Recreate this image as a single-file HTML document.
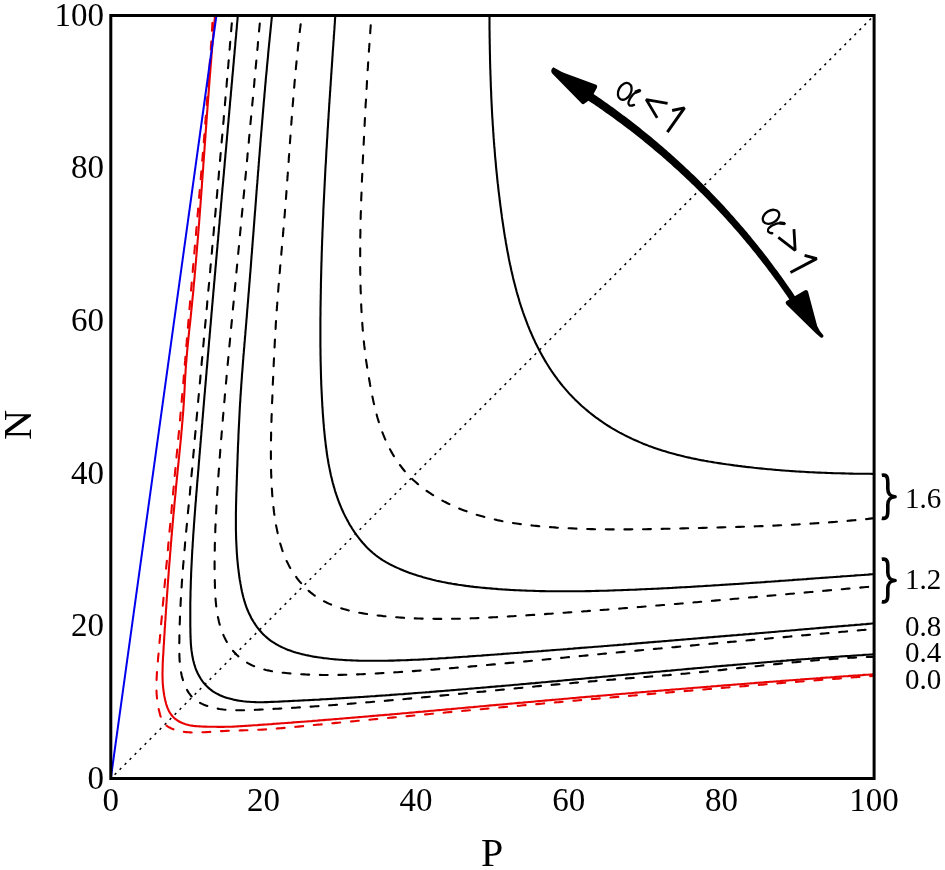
<!DOCTYPE html>
<html><head><meta charset="utf-8"><style>html,body{margin:0;padding:0;background:#fff;}svg{display:block;will-change:transform;}</style></head>
<body>
<svg width="945" height="870" viewBox="0 0 945 870">
<rect width="945" height="870" fill="#fff"/>
<defs><clipPath id="c"><rect x="110.8" y="15.5" width="763.3000000000001" height="763.0"/></clipPath></defs>
<g clip-path="url(#c)" fill="none" stroke-linejoin="round">
<path d="M110.8,778.5 L874.1,15.5" stroke="#000" stroke-width="1.5" stroke-dasharray="2.3 4.768" stroke-dashoffset="1.64"/>
<path d="M489.3,15.5 L489.5,17.5 L489.5,19.5 L489.5,21.5 L489.5,23.5 L489.5,25.5 L489.5,27.5 L489.5,29.5 L489.6,31.5 L489.6,33.5 L489.6,35.5 L489.6,37.5 L489.7,39.5 L489.7,41.5 L489.7,43.5 L489.8,45.5 L489.8,47.5 L489.8,49.5 L489.9,51.5 L489.9,53.5 L490.0,55.5 L490.0,57.5 L490.0,59.5 L490.1,61.5 L490.1,63.5 L490.2,65.5 L490.2,67.5 L490.3,69.5 L490.4,71.5 L490.4,73.5 L490.5,75.5 L490.6,77.5 L490.6,79.5 L490.7,81.5 L490.8,83.5 L490.8,85.5 L490.9,87.5 L491.0,89.5 L491.1,91.5 L491.2,93.5 L491.2,95.5 L491.3,97.5 L491.4,99.5 L491.5,101.5 L491.6,103.5 L491.7,105.5 L491.8,107.5 L491.9,109.5 L492.0,111.5 L492.1,113.5 L492.2,115.5 L492.3,117.5 L492.5,119.5 L492.6,121.5 L492.7,123.5 L492.8,125.5 L493.0,127.4 L493.1,129.4 L493.2,131.4 L493.4,133.4 L493.5,135.4 L493.6,137.4 L493.8,139.4 L493.9,141.4 L494.1,143.4 L494.2,145.4 L494.4,147.4 L494.6,149.4 L494.7,151.3 L494.9,153.3 L495.0,155.3 L495.2,157.3 L495.4,159.3 L495.6,161.3 L495.8,163.3 L495.9,165.3 L496.1,167.3 L496.3,169.3 L496.5,171.2 L496.7,173.2 L496.9,175.2 L497.1,177.2 L497.3,179.2 L497.5,181.2 L497.7,183.2 L498.0,185.2 L498.2,187.1 L498.4,189.1 L498.6,191.1 L498.9,193.1 L499.1,195.1 L499.4,197.1 L499.6,199.1 L499.8,201.0 L500.1,203.0 L500.3,205.0 L500.6,207.0 L500.9,209.0 L501.1,211.0 L501.4,213.0 L501.7,214.9 L501.9,216.9 L502.2,218.9 L502.5,220.9 L502.8,222.9 L503.1,224.9 L503.4,226.8 L503.7,228.8 L504.0,230.8 L504.3,232.8 L504.6,234.8 L504.9,236.7 L505.3,238.7 L505.6,240.7 L505.9,242.7 L506.3,244.7 L506.6,246.6 L507.0,248.6 L507.3,250.6 L507.7,252.5 L508.1,254.5 L508.5,256.5 L508.8,258.5 L509.2,260.4 L509.6,262.4 L510.0,264.3 L510.5,266.3 L510.9,268.3 L511.3,270.2 L511.8,272.2 L512.2,274.1 L512.7,276.1 L513.1,278.0 L513.6,280.0 L514.1,281.9 L514.6,283.8 L515.1,285.8 L515.6,287.7 L516.1,289.6 L516.6,291.6 L517.2,293.5 L517.7,295.4 L518.3,297.3 L518.9,299.2 L519.4,301.2 L520.0,303.1 L520.6,305.0 L521.2,306.9 L521.9,308.8 L522.5,310.7 L523.1,312.5 L523.8,314.4 L524.5,316.3 L525.2,318.2 L525.9,320.1 L526.6,321.9 L527.3,323.8 L528.0,325.6 L528.8,327.5 L529.5,329.4 L530.3,331.2 L531.1,333.0 L531.9,334.9 L532.7,336.7 L533.5,338.5 L534.4,340.3 L535.2,342.2 L536.1,344.0 L537.0,345.8 L537.9,347.6 L538.8,349.3 L539.7,351.1 L540.7,352.9 L541.6,354.6 L542.6,356.4 L543.6,358.1 L544.6,359.9 L545.6,361.6 L546.6,363.3 L547.7,365.0 L548.8,366.7 L549.8,368.4 L550.9,370.0 L552.0,371.7 L553.2,373.4 L554.3,375.0 L555.5,376.6 L556.7,378.2 L557.8,379.8 L559.1,381.4 L560.3,383.0 L561.5,384.5 L562.8,386.1 L564.1,387.6 L565.4,389.1 L566.7,390.6 L568.0,392.1 L569.3,393.6 L570.7,395.1 L572.1,396.5 L573.5,397.9 L574.9,399.4 L576.3,400.8 L577.7,402.1 L579.2,403.5 L580.7,404.9 L582.1,406.2 L583.6,407.5 L585.1,408.8 L586.7,410.1 L588.2,411.4 L589.8,412.7 L591.3,413.9 L592.9,415.1 L594.5,416.4 L596.1,417.6 L597.7,418.7 L599.3,419.9 L601.0,421.0 L602.6,422.2 L604.3,423.3 L605.9,424.4 L607.6,425.5 L609.3,426.5 L611.0,427.6 L612.7,428.6 L614.5,429.6 L616.2,430.6 L617.9,431.6 L619.7,432.6 L621.5,433.5 L623.2,434.4 L625.0,435.4 L626.8,436.3 L628.6,437.1 L630.4,438.0 L632.2,438.9 L634.0,439.7 L635.9,440.5 L637.7,441.3 L639.5,442.1 L641.4,442.9 L643.2,443.7 L645.1,444.4 L646.9,445.1 L648.8,445.9 L650.7,446.6 L652.6,447.2 L654.5,447.9 L656.3,448.6 L658.2,449.2 L660.1,449.8 L662.0,450.4 L663.9,451.0 L665.9,451.6 L667.8,452.2 L669.7,452.8 L671.6,453.3 L673.5,453.8 L675.5,454.3 L677.4,454.9 L679.3,455.3 L681.3,455.8 L683.2,456.3 L685.2,456.8 L687.1,457.2 L689.0,457.6 L691.0,458.1 L693.0,458.5 L694.9,458.9 L696.9,459.3 L698.8,459.7 L700.8,460.1 L702.7,460.4 L704.7,460.8 L706.7,461.1 L708.6,461.5 L710.6,461.8 L712.6,462.1 L714.6,462.5 L716.5,462.8 L718.5,463.1 L720.5,463.4 L722.5,463.7 L724.4,464.0 L726.4,464.3 L728.4,464.5 L730.4,464.8 L732.4,465.1 L734.3,465.4 L736.3,465.6 L738.3,465.9 L740.3,466.1 L742.3,466.4 L744.3,466.6 L746.2,466.9 L748.2,467.1 L750.2,467.3 L752.2,467.5 L754.2,467.8 L756.2,468.0 L758.2,468.2 L760.2,468.4 L762.1,468.6 L764.1,468.8 L766.1,469.0 L768.1,469.2 L770.1,469.3 L772.1,469.5 L774.1,469.7 L776.1,469.9 L778.1,470.0 L780.1,470.2 L782.1,470.4 L784.1,470.5 L786.1,470.7 L788.1,470.8 L790.1,471.0 L792.1,471.1 L794.1,471.2 L796.0,471.4 L798.0,471.5 L800.0,471.6 L802.0,471.7 L804.0,471.8 L806.0,472.0 L808.0,472.1 L810.0,472.2 L812.0,472.3 L814.0,472.4 L816.0,472.5 L818.0,472.6 L820.0,472.6 L822.0,472.7 L824.0,472.8 L826.0,472.9 L828.0,473.0 L830.0,473.0 L832.0,473.1 L834.0,473.2 L836.0,473.2 L838.0,473.3 L840.0,473.3 L842.0,473.4 L844.0,473.4 L846.0,473.5 L848.0,473.5 L850.0,473.6 L852.0,473.6 L854.0,473.7 L856.0,473.7 L858.0,473.7 L860.0,473.7 L862.0,473.8 L864.0,473.8 L866.0,473.8 L868.0,473.8 L870.0,473.8 L872.0,473.9 L874.0,473.9" stroke="#000" stroke-width="2.1"/>
<path d="M335.4,15.5 L335.2,17.5 L335.0,19.5 L334.9,21.5 L334.8,23.5 L334.6,25.5 L334.5,27.4 L334.4,29.4 L334.2,31.4 L334.1,33.4 L333.9,35.4 L333.8,37.4 L333.7,39.4 L333.5,41.4 L333.4,43.3 L333.3,45.3 L333.1,47.3 L333.0,49.3 L332.8,51.3 L332.7,53.3 L332.6,55.3 L332.4,57.3 L332.3,59.3 L332.2,61.3 L332.0,63.3 L331.9,65.3 L331.8,67.3 L331.6,69.2 L331.5,71.2 L331.4,73.2 L331.2,75.2 L331.1,77.2 L331.0,79.2 L330.8,81.2 L330.7,83.2 L330.6,85.2 L330.4,87.2 L330.3,89.2 L330.2,91.2 L330.0,93.2 L329.9,95.2 L329.8,97.2 L329.6,99.2 L329.5,101.2 L329.4,103.2 L329.2,105.2 L329.1,107.2 L329.0,109.2 L328.9,111.2 L328.7,113.2 L328.6,115.2 L328.5,117.2 L328.4,119.2 L328.2,121.2 L328.1,123.2 L328.0,125.2 L327.9,127.2 L327.7,129.2 L327.6,131.2 L327.5,133.2 L327.4,135.3 L327.3,137.3 L327.1,139.3 L327.0,141.3 L326.9,143.3 L326.8,145.3 L326.7,147.3 L326.5,149.3 L326.4,151.3 L326.3,153.3 L326.2,155.3 L326.1,157.3 L326.0,159.3 L325.9,161.3 L325.8,163.3 L325.6,165.3 L325.5,167.3 L325.4,169.3 L325.3,171.3 L325.2,173.3 L325.1,175.4 L325.0,177.4 L324.9,179.4 L324.8,181.4 L324.7,183.4 L324.6,185.4 L324.5,187.4 L324.4,189.4 L324.3,191.4 L324.2,193.4 L324.1,195.4 L324.0,197.4 L323.9,199.4 L323.8,201.4 L323.7,203.4 L323.6,205.4 L323.5,207.4 L323.4,209.5 L323.3,211.5 L323.3,213.5 L323.2,215.5 L323.1,217.5 L323.0,219.5 L322.9,221.5 L322.8,223.5 L322.8,225.5 L322.7,227.5 L322.6,229.5 L322.5,231.5 L322.4,233.5 L322.4,235.5 L322.3,237.5 L322.2,239.5 L322.1,241.5 L322.1,243.5 L322.0,245.5 L321.9,247.5 L321.9,249.5 L321.8,251.5 L321.7,253.5 L321.7,255.6 L321.6,257.6 L321.6,259.6 L321.5,261.6 L321.4,263.6 L321.4,265.6 L321.3,267.6 L321.3,269.6 L321.2,271.6 L321.2,273.6 L321.1,275.6 L321.1,277.6 L321.0,279.6 L321.0,281.6 L320.9,283.6 L320.9,285.6 L320.9,287.6 L320.8,289.6 L320.8,291.6 L320.8,293.5 L320.7,295.5 L320.7,297.5 L320.7,299.5 L320.6,301.5 L320.6,303.5 L320.6,305.5 L320.5,307.5 L320.5,309.5 L320.5,311.5 L320.5,313.5 L320.5,315.5 L320.4,317.5 L320.4,319.5 L320.4,321.5 L320.4,323.5 L320.4,325.5 L320.4,327.4 L320.4,329.4 L320.4,331.4 L320.4,333.4 L320.4,335.4 L320.4,337.4 L320.4,339.4 L320.4,341.4 L320.4,343.4 L320.4,345.4 L320.4,347.3 L320.5,349.3 L320.5,351.3 L320.5,353.3 L320.5,355.3 L320.6,357.3 L320.6,359.3 L320.6,361.3 L320.7,363.3 L320.7,365.3 L320.8,367.3 L320.8,369.3 L320.9,371.2 L320.9,373.2 L321.0,375.2 L321.0,377.2 L321.1,379.2 L321.2,381.2 L321.2,383.2 L321.3,385.2 L321.4,387.2 L321.5,389.2 L321.6,391.2 L321.7,393.2 L321.8,395.2 L321.9,397.2 L322.0,399.2 L322.1,401.2 L322.2,403.2 L322.3,405.2 L322.4,407.2 L322.6,409.2 L322.7,411.3 L322.8,413.3 L323.0,415.3 L323.1,417.3 L323.3,419.3 L323.4,421.3 L323.6,423.3 L323.8,425.3 L323.9,427.4 L324.1,429.4 L324.3,431.4 L324.5,433.4 L324.7,435.4 L324.9,437.4 L325.1,439.5 L325.4,441.5 L325.6,443.5 L325.8,445.5 L326.1,447.5 L326.4,449.5 L326.6,451.5 L326.9,453.5 L327.2,455.5 L327.5,457.5 L327.9,459.5 L328.2,461.5 L328.5,463.5 L328.9,465.4 L329.3,467.4 L329.7,469.4 L330.1,471.3 L330.5,473.3 L330.9,475.3 L331.4,477.2 L331.9,479.1 L332.3,481.1 L332.8,483.0 L333.4,484.9 L333.9,486.9 L334.5,488.8 L335.0,490.7 L335.6,492.6 L336.2,494.4 L336.9,496.3 L337.5,498.2 L338.2,500.1 L338.9,501.9 L339.6,503.8 L340.4,505.6 L341.1,507.4 L341.9,509.2 L342.7,511.0 L343.5,512.8 L344.4,514.6 L345.3,516.4 L346.2,518.1 L347.1,519.9 L348.1,521.6 L349.0,523.4 L350.0,525.1 L351.1,526.8 L352.1,528.5 L353.2,530.2 L354.3,531.8 L355.5,533.5 L356.6,535.1 L357.8,536.7 L359.1,538.3 L360.3,539.9 L361.6,541.5 L362.9,543.0 L364.3,544.5 L365.6,546.0 L367.0,547.5 L368.5,548.9 L369.9,550.3 L371.4,551.6 L372.9,553.0 L374.5,554.2 L376.0,555.5 L377.6,556.7 L379.3,557.8 L380.9,559.0 L382.6,560.1 L384.3,561.1 L386.0,562.1 L387.8,563.1 L389.5,564.1 L391.3,565.0 L393.1,565.9 L394.9,566.8 L396.7,567.6 L398.6,568.4 L400.4,569.2 L402.3,570.0 L404.1,570.8 L406.0,571.5 L407.9,572.2 L409.8,572.9 L411.6,573.6 L413.5,574.2 L415.4,574.8 L417.3,575.5 L419.2,576.1 L421.2,576.6 L423.1,577.2 L425.0,577.7 L426.9,578.3 L428.9,578.8 L430.8,579.3 L432.7,579.8 L434.7,580.2 L436.6,580.7 L438.6,581.1 L440.5,581.5 L442.5,582.0 L444.4,582.3 L446.4,582.7 L448.4,583.1 L450.4,583.4 L452.3,583.8 L454.3,584.1 L456.3,584.4 L458.3,584.8 L460.2,585.0 L462.2,585.3 L464.2,585.6 L466.2,585.9 L468.2,586.1 L470.2,586.4 L472.2,586.6 L474.2,586.9 L476.2,587.1 L478.2,587.3 L480.2,587.5 L482.2,587.7 L484.2,587.9 L486.2,588.1 L488.2,588.3 L490.2,588.4 L492.2,588.6 L494.2,588.8 L496.2,588.9 L498.2,589.1 L500.2,589.2 L502.2,589.4 L504.2,589.5 L506.2,589.6 L508.2,589.7 L510.2,589.9 L512.2,590.0 L514.2,590.1 L516.2,590.2 L518.2,590.3 L520.2,590.4 L522.2,590.5 L524.2,590.5 L526.2,590.6 L528.2,590.7 L530.2,590.8 L532.2,590.8 L534.2,590.9 L536.2,591.0 L538.2,591.0 L540.2,591.1 L542.2,591.1 L544.2,591.1 L546.2,591.2 L548.2,591.2 L550.2,591.2 L552.2,591.3 L554.2,591.3 L556.2,591.3 L558.2,591.3 L560.2,591.3 L562.2,591.3 L564.2,591.3 L566.2,591.3 L568.2,591.3 L570.2,591.3 L572.2,591.3 L574.2,591.3 L576.2,591.3 L578.2,591.2 L580.2,591.2 L582.2,591.2 L584.2,591.2 L586.2,591.1 L588.2,591.1 L590.2,591.1 L592.2,591.0 L594.2,591.0 L596.2,590.9 L598.2,590.9 L600.2,590.8 L602.2,590.8 L604.2,590.7 L606.2,590.7 L608.2,590.6 L610.2,590.5 L612.2,590.5 L614.2,590.4 L616.2,590.3 L618.2,590.3 L620.2,590.2 L622.2,590.1 L624.2,590.0 L626.2,590.0 L628.2,589.9 L630.2,589.8 L632.2,589.7 L634.2,589.7 L636.2,589.6 L638.2,589.5 L640.2,589.4 L642.2,589.3 L644.2,589.2 L646.2,589.1 L648.2,589.0 L650.2,589.0 L652.2,588.9 L654.2,588.8 L656.2,588.7 L658.2,588.6 L660.2,588.5 L662.2,588.4 L664.2,588.3 L666.2,588.2 L668.2,588.1 L670.2,588.0 L672.2,587.9 L674.2,587.7 L676.2,587.6 L678.2,587.5 L680.2,587.4 L682.2,587.3 L684.2,587.2 L686.2,587.1 L688.2,587.0 L690.2,586.9 L692.2,586.7 L694.2,586.6 L696.2,586.5 L698.2,586.4 L700.2,586.3 L702.2,586.2 L704.2,586.0 L706.2,585.9 L708.2,585.8 L710.2,585.7 L712.2,585.5 L714.2,585.4 L716.2,585.3 L718.2,585.2 L720.2,585.0 L722.2,584.9 L724.2,584.8 L726.2,584.6 L728.2,584.5 L730.2,584.4 L732.2,584.3 L734.2,584.1 L736.2,584.0 L738.2,583.9 L740.2,583.7 L742.2,583.6 L744.2,583.5 L746.2,583.3 L748.2,583.2 L750.2,583.0 L752.2,582.9 L754.2,582.8 L756.2,582.6 L758.2,582.5 L760.2,582.4 L762.2,582.2 L764.2,582.1 L766.2,581.9 L768.2,581.8 L770.2,581.7 L772.1,581.5 L774.1,581.4 L776.1,581.2 L778.1,581.1 L780.1,580.9 L782.1,580.8 L784.1,580.7 L786.1,580.5 L788.1,580.4 L790.1,580.2 L792.1,580.1 L794.1,579.9 L796.1,579.8 L798.1,579.6 L800.1,579.5 L802.1,579.4 L804.1,579.2 L806.1,579.1 L808.1,578.9 L810.1,578.8 L812.1,578.6 L814.1,578.5 L816.1,578.3 L818.1,578.2 L820.1,578.0 L822.1,577.9 L824.1,577.8 L826.1,577.6 L828.1,577.5 L830.1,577.3 L832.1,577.2 L834.1,577.0 L836.1,576.9 L838.1,576.7 L840.1,576.6 L842.1,576.4 L844.0,576.3 L846.0,576.2 L848.0,576.0 L850.0,575.9 L852.0,575.7 L854.0,575.6 L856.0,575.4 L858.0,575.3 L860.0,575.2 L862.0,575.0 L864.0,574.9 L866.0,574.7 L868.0,574.6 L870.0,574.4 L872.0,574.3 L874.0,574.2" stroke="#000" stroke-width="2.1"/>
<path d="M272.0,15.5 L271.8,17.5 L271.6,19.5 L271.4,21.5 L271.2,23.5 L271.0,25.5 L270.8,27.4 L270.6,29.4 L270.4,31.4 L270.2,33.4 L270.0,35.4 L269.8,37.4 L269.6,39.4 L269.4,41.4 L269.2,43.4 L269.0,45.4 L268.8,47.4 L268.6,49.3 L268.4,51.3 L268.2,53.3 L268.1,55.3 L267.9,57.3 L267.7,59.3 L267.5,61.3 L267.3,63.3 L267.1,65.3 L266.9,67.3 L266.8,69.3 L266.6,71.3 L266.4,73.2 L266.2,75.2 L266.0,77.2 L265.8,79.2 L265.7,81.2 L265.5,83.2 L265.3,85.2 L265.1,87.2 L265.0,89.2 L264.8,91.2 L264.6,93.2 L264.4,95.2 L264.3,97.2 L264.1,99.1 L263.9,101.1 L263.7,103.1 L263.6,105.1 L263.4,107.1 L263.2,109.1 L263.1,111.1 L262.9,113.1 L262.7,115.1 L262.6,117.1 L262.4,119.1 L262.2,121.1 L262.1,123.1 L261.9,125.1 L261.7,127.1 L261.6,129.0 L261.4,131.0 L261.2,133.0 L261.1,135.0 L260.9,137.0 L260.7,139.0 L260.6,141.0 L260.4,143.0 L260.3,145.0 L260.1,147.0 L259.9,149.0 L259.8,151.0 L259.6,153.0 L259.5,155.0 L259.3,157.0 L259.1,158.9 L259.0,160.9 L258.8,162.9 L258.7,164.9 L258.5,166.9 L258.4,168.9 L258.2,170.9 L258.0,172.9 L257.9,174.9 L257.7,176.9 L257.6,178.9 L257.4,180.9 L257.3,182.9 L257.1,184.9 L256.9,186.9 L256.8,188.9 L256.6,190.8 L256.5,192.8 L256.3,194.8 L256.2,196.8 L256.0,198.8 L255.9,200.8 L255.7,202.8 L255.6,204.8 L255.4,206.8 L255.3,208.8 L255.1,210.8 L254.9,212.8 L254.8,214.8 L254.6,216.8 L254.5,218.8 L254.3,220.8 L254.2,222.8 L254.0,224.8 L253.9,226.7 L253.7,228.7 L253.6,230.7 L253.4,232.7 L253.3,234.7 L253.1,236.7 L252.9,238.7 L252.8,240.7 L252.6,242.7 L252.5,244.7 L252.3,246.7 L252.2,248.7 L252.0,250.7 L251.9,252.7 L251.7,254.7 L251.5,256.7 L251.4,258.7 L251.2,260.6 L251.1,262.6 L250.9,264.6 L250.8,266.6 L250.6,268.6 L250.5,270.6 L250.3,272.6 L250.1,274.6 L250.0,276.6 L249.8,278.6 L249.7,280.6 L249.5,282.6 L249.3,284.6 L249.2,286.6 L249.0,288.6 L248.9,290.6 L248.7,292.6 L248.5,294.6 L248.4,296.5 L248.2,298.5 L248.1,300.5 L247.9,302.5 L247.7,304.5 L247.6,306.5 L247.4,308.5 L247.2,310.5 L247.1,312.5 L246.9,314.5 L246.8,316.5 L246.6,318.5 L246.4,320.5 L246.3,322.5 L246.1,324.5 L245.9,326.5 L245.8,328.5 L245.6,330.4 L245.4,332.4 L245.3,334.4 L245.1,336.4 L244.9,338.4 L244.8,340.4 L244.6,342.4 L244.4,344.4 L244.3,346.4 L244.1,348.4 L243.9,350.4 L243.8,352.4 L243.6,354.4 L243.4,356.4 L243.3,358.4 L243.1,360.4 L243.0,362.3 L242.8,364.3 L242.7,366.3 L242.5,368.3 L242.4,370.3 L242.2,372.3 L242.0,374.3 L241.9,376.3 L241.8,378.3 L241.6,380.3 L241.5,382.3 L241.3,384.3 L241.2,386.3 L241.1,388.3 L240.9,390.3 L240.8,392.3 L240.7,394.2 L240.5,396.2 L240.4,398.2 L240.3,400.2 L240.2,402.2 L240.0,404.2 L239.9,406.2 L239.8,408.2 L239.7,410.2 L239.6,412.2 L239.5,414.2 L239.4,416.2 L239.3,418.2 L239.2,420.2 L239.1,422.2 L239.0,424.2 L238.9,426.1 L238.8,428.1 L238.7,430.1 L238.6,432.1 L238.5,434.1 L238.4,436.1 L238.4,438.1 L238.3,440.1 L238.2,442.1 L238.1,444.1 L238.0,446.1 L237.9,448.1 L237.9,450.1 L237.8,452.1 L237.7,454.1 L237.6,456.1 L237.6,458.1 L237.5,460.1 L237.4,462.1 L237.4,464.1 L237.3,466.1 L237.2,468.1 L237.1,470.1 L237.1,472.1 L237.0,474.1 L236.9,476.1 L236.9,478.1 L236.8,480.1 L236.7,482.1 L236.7,484.1 L236.6,486.1 L236.5,488.1 L236.5,490.1 L236.4,492.2 L236.3,494.2 L236.3,496.2 L236.2,498.2 L236.2,500.2 L236.1,502.2 L236.1,504.2 L236.0,506.2 L236.0,508.2 L236.0,510.2 L235.9,512.2 L235.9,514.2 L235.9,516.2 L235.9,518.3 L235.9,520.3 L235.9,522.3 L235.9,524.3 L235.9,526.3 L235.9,528.3 L235.9,530.3 L236.0,532.3 L236.0,534.3 L236.1,536.3 L236.1,538.3 L236.2,540.3 L236.3,542.3 L236.4,544.3 L236.5,546.3 L236.6,548.3 L236.7,550.3 L236.8,552.3 L236.9,554.2 L237.1,556.2 L237.2,558.2 L237.4,560.2 L237.6,562.2 L237.8,564.2 L238.0,566.1 L238.2,568.1 L238.5,570.1 L238.7,572.1 L239.0,574.1 L239.2,576.0 L239.5,578.0 L239.8,580.0 L240.2,581.9 L240.5,583.9 L240.9,585.9 L241.2,587.8 L241.6,589.8 L242.0,591.7 L242.5,593.7 L242.9,595.6 L243.4,597.5 L244.0,599.5 L244.5,601.4 L245.1,603.3 L245.7,605.2 L246.4,607.1 L247.1,609.0 L247.9,610.8 L248.7,612.7 L249.6,614.5 L250.5,616.3 L251.4,618.2 L252.4,619.9 L253.5,621.7 L254.6,623.4 L255.7,625.1 L256.9,626.8 L258.1,628.4 L259.4,630.0 L260.7,631.5 L262.0,633.0 L263.4,634.4 L264.8,635.8 L266.3,637.1 L267.8,638.4 L269.3,639.6 L270.9,640.8 L272.5,641.9 L274.2,642.9 L275.8,644.0 L277.5,644.9 L279.2,645.9 L281.0,646.8 L282.8,647.6 L284.6,648.4 L286.4,649.2 L288.2,649.9 L290.1,650.6 L292.0,651.3 L293.9,651.9 L295.8,652.5 L297.7,653.0 L299.7,653.6 L301.6,654.1 L303.6,654.5 L305.6,655.0 L307.6,655.4 L309.5,655.8 L311.5,656.2 L313.5,656.6 L315.6,656.9 L317.6,657.2 L319.6,657.5 L321.6,657.8 L323.6,658.1 L325.6,658.3 L327.6,658.5 L329.6,658.8 L331.6,659.0 L333.6,659.2 L335.6,659.4 L337.6,659.5 L339.6,659.7 L341.6,659.8 L343.6,660.0 L345.6,660.1 L347.6,660.2 L349.6,660.3 L351.6,660.4 L353.5,660.5 L355.5,660.5 L357.5,660.6 L359.5,660.7 L361.5,660.7 L363.5,660.7 L365.5,660.8 L367.5,660.8 L369.5,660.8 L371.5,660.8 L373.5,660.8 L375.5,660.8 L377.5,660.8 L379.5,660.8 L381.4,660.8 L383.4,660.7 L385.4,660.7 L387.4,660.7 L389.4,660.6 L391.4,660.6 L393.4,660.6 L395.4,660.5 L397.4,660.4 L399.4,660.4 L401.4,660.3 L403.4,660.2 L405.4,660.2 L407.4,660.1 L409.4,660.0 L411.4,659.9 L413.4,659.8 L415.4,659.8 L417.4,659.7 L419.3,659.6 L421.3,659.5 L423.3,659.4 L425.3,659.3 L427.3,659.2 L429.3,659.0 L431.3,658.9 L433.3,658.8 L435.3,658.7 L437.3,658.6 L439.3,658.4 L441.3,658.3 L443.3,658.2 L445.3,658.1 L447.3,657.9 L449.3,657.8 L451.3,657.7 L453.3,657.5 L455.3,657.4 L457.3,657.3 L459.3,657.1 L461.3,657.0 L463.3,656.8 L465.3,656.7 L467.3,656.6 L469.3,656.4 L471.3,656.3 L473.3,656.1 L475.3,656.0 L477.3,655.8 L479.3,655.7 L481.3,655.6 L483.3,655.4 L485.3,655.3 L487.2,655.1 L489.2,655.0 L491.2,654.8 L493.2,654.7 L495.2,654.5 L497.2,654.4 L499.2,654.2 L501.2,654.1 L503.2,653.9 L505.2,653.8 L507.2,653.6 L509.2,653.5 L511.2,653.3 L513.2,653.2 L515.2,653.0 L517.2,652.9 L519.2,652.7 L521.2,652.6 L523.2,652.4 L525.2,652.3 L527.2,652.1 L529.2,652.0 L531.2,651.8 L533.2,651.7 L535.1,651.5 L537.1,651.4 L539.1,651.2 L541.1,651.1 L543.1,650.9 L545.1,650.8 L547.1,650.6 L549.1,650.5 L551.1,650.3 L553.1,650.1 L555.1,650.0 L557.1,649.8 L559.1,649.7 L561.1,649.5 L563.1,649.4 L565.1,649.2 L567.1,649.1 L569.1,648.9 L571.1,648.7 L573.0,648.6 L575.0,648.4 L577.0,648.3 L579.0,648.1 L581.0,647.9 L583.0,647.8 L585.0,647.6 L587.0,647.5 L589.0,647.3 L591.0,647.2 L593.0,647.0 L595.0,646.8 L597.0,646.7 L599.0,646.5 L601.0,646.4 L603.0,646.2 L604.9,646.0 L606.9,645.9 L608.9,645.7 L610.9,645.5 L612.9,645.4 L614.9,645.2 L616.9,645.1 L618.9,644.9 L620.9,644.7 L622.9,644.6 L624.9,644.4 L626.9,644.2 L628.9,644.1 L630.9,643.9 L632.9,643.8 L634.8,643.6 L636.8,643.4 L638.8,643.3 L640.8,643.1 L642.8,642.9 L644.8,642.8 L646.8,642.6 L648.8,642.4 L650.8,642.3 L652.8,642.1 L654.8,641.9 L656.8,641.8 L658.8,641.6 L660.8,641.5 L662.7,641.3 L664.7,641.1 L666.7,641.0 L668.7,640.8 L670.7,640.6 L672.7,640.5 L674.7,640.3 L676.7,640.1 L678.7,640.0 L680.7,639.8 L682.7,639.6 L684.7,639.5 L686.7,639.3 L688.7,639.1 L690.6,639.0 L692.6,638.8 L694.6,638.6 L696.6,638.5 L698.6,638.3 L700.6,638.1 L702.6,637.9 L704.6,637.8 L706.6,637.6 L708.6,637.4 L710.6,637.3 L712.6,637.1 L714.6,636.9 L716.6,636.8 L718.5,636.6 L720.5,636.4 L722.5,636.3 L724.5,636.1 L726.5,635.9 L728.5,635.8 L730.5,635.6 L732.5,635.4 L734.5,635.2 L736.5,635.1 L738.5,634.9 L740.5,634.7 L742.5,634.6 L744.5,634.4 L746.4,634.2 L748.4,634.1 L750.4,633.9 L752.4,633.7 L754.4,633.6 L756.4,633.4 L758.4,633.2 L760.4,633.0 L762.4,632.9 L764.4,632.7 L766.4,632.5 L768.4,632.4 L770.4,632.2 L772.3,632.0 L774.3,631.9 L776.3,631.7 L778.3,631.5 L780.3,631.3 L782.3,631.2 L784.3,631.0 L786.3,630.8 L788.3,630.7 L790.3,630.5 L792.3,630.3 L794.3,630.2 L796.3,630.0 L798.3,629.8 L800.3,629.6 L802.2,629.5 L804.2,629.3 L806.2,629.1 L808.2,629.0 L810.2,628.8 L812.2,628.6 L814.2,628.5 L816.2,628.3 L818.2,628.1 L820.2,627.9 L822.2,627.8 L824.2,627.6 L826.2,627.4 L828.2,627.3 L830.1,627.1 L832.1,626.9 L834.1,626.8 L836.1,626.6 L838.1,626.4 L840.1,626.3 L842.1,626.1 L844.1,625.9 L846.1,625.7 L848.1,625.6 L850.1,625.4 L852.1,625.2 L854.1,625.1 L856.1,624.9 L858.1,624.7 L860.1,624.6 L862.0,624.4 L864.0,624.2 L866.0,624.1 L868.0,623.9 L870.0,623.7 L872.0,623.5 L874.0,623.3" stroke="#000" stroke-width="2.1"/>
<path d="M237.9,15.5 L237.6,17.5 L237.5,19.5 L237.3,21.5 L237.1,23.5 L236.9,25.5 L236.8,27.5 L236.6,29.5 L236.4,31.5 L236.2,33.4 L236.1,35.4 L235.9,37.4 L235.7,39.4 L235.5,41.4 L235.3,43.4 L235.2,45.4 L235.0,47.4 L234.8,49.4 L234.6,51.4 L234.5,53.4 L234.3,55.4 L234.1,57.4 L233.9,59.3 L233.8,61.3 L233.6,63.3 L233.4,65.3 L233.2,67.3 L233.1,69.3 L232.9,71.3 L232.7,73.3 L232.5,75.3 L232.3,77.3 L232.2,79.3 L232.0,81.3 L231.8,83.3 L231.6,85.3 L231.5,87.2 L231.3,89.2 L231.1,91.2 L230.9,93.2 L230.8,95.2 L230.6,97.2 L230.4,99.2 L230.2,101.2 L230.0,103.2 L229.9,105.2 L229.7,107.2 L229.5,109.2 L229.3,111.2 L229.2,113.2 L229.0,115.2 L228.8,117.2 L228.6,119.2 L228.5,121.1 L228.3,123.1 L228.1,125.1 L227.9,127.1 L227.7,129.1 L227.6,131.1 L227.4,133.1 L227.2,135.1 L227.0,137.1 L226.9,139.1 L226.7,141.1 L226.5,143.1 L226.3,145.1 L226.2,147.1 L226.0,149.1 L225.8,151.1 L225.6,153.1 L225.4,155.1 L225.3,157.1 L225.1,159.0 L224.9,161.0 L224.7,163.0 L224.6,165.0 L224.4,167.0 L224.2,169.0 L224.0,171.0 L223.9,173.0 L223.7,175.0 L223.5,177.0 L223.3,179.0 L223.2,181.0 L223.0,183.0 L222.8,185.0 L222.6,187.0 L222.4,189.0 L222.3,191.0 L222.1,193.0 L221.9,195.0 L221.7,197.0 L221.6,199.0 L221.4,201.0 L221.2,202.9 L221.0,204.9 L220.9,206.9 L220.7,208.9 L220.5,210.9 L220.3,212.9 L220.2,214.9 L220.0,216.9 L219.8,218.9 L219.6,220.9 L219.5,222.9 L219.3,224.9 L219.1,226.9 L218.9,228.9 L218.8,230.9 L218.6,232.9 L218.4,234.9 L218.2,236.9 L218.1,238.9 L217.9,240.9 L217.7,242.9 L217.5,244.9 L217.4,246.9 L217.2,248.9 L217.0,250.8 L216.8,252.8 L216.7,254.8 L216.5,256.8 L216.3,258.8 L216.1,260.8 L216.0,262.8 L215.8,264.8 L215.6,266.8 L215.4,268.8 L215.3,270.8 L215.1,272.8 L214.9,274.8 L214.7,276.8 L214.6,278.8 L214.4,280.8 L214.2,282.8 L214.0,284.8 L213.9,286.8 L213.7,288.8 L213.5,290.8 L213.3,292.8 L213.2,294.8 L213.0,296.8 L212.8,298.7 L212.7,300.7 L212.5,302.7 L212.3,304.7 L212.1,306.7 L212.0,308.7 L211.8,310.7 L211.6,312.7 L211.4,314.7 L211.3,316.7 L211.1,318.7 L210.9,320.7 L210.8,322.7 L210.6,324.7 L210.4,326.7 L210.2,328.7 L210.1,330.7 L209.9,332.7 L209.7,334.7 L209.6,336.7 L209.4,338.7 L209.2,340.7 L209.0,342.7 L208.9,344.6 L208.7,346.6 L208.5,348.6 L208.4,350.6 L208.2,352.6 L208.0,354.6 L207.8,356.6 L207.7,358.6 L207.5,360.6 L207.3,362.6 L207.2,364.6 L207.0,366.6 L206.8,368.6 L206.6,370.6 L206.5,372.6 L206.3,374.6 L206.1,376.6 L206.0,378.6 L205.8,380.6 L205.6,382.6 L205.5,384.5 L205.3,386.5 L205.1,388.5 L205.0,390.5 L204.8,392.5 L204.6,394.5 L204.4,396.5 L204.3,398.5 L204.1,400.5 L203.9,402.5 L203.8,404.5 L203.6,406.5 L203.4,408.5 L203.3,410.5 L203.1,412.5 L202.9,414.5 L202.8,416.5 L202.6,418.5 L202.4,420.4 L202.3,422.4 L202.1,424.4 L201.9,426.4 L201.8,428.4 L201.6,430.4 L201.4,432.4 L201.3,434.4 L201.1,436.4 L200.9,438.4 L200.8,440.4 L200.6,442.4 L200.4,444.4 L200.3,446.4 L200.1,448.4 L199.9,450.3 L199.8,452.3 L199.6,454.3 L199.4,456.3 L199.3,458.3 L199.1,460.3 L198.9,462.3 L198.8,464.3 L198.6,466.3 L198.5,468.3 L198.3,470.3 L198.1,472.3 L198.0,474.3 L197.8,476.3 L197.6,478.2 L197.5,480.2 L197.3,482.2 L197.1,484.2 L197.0,486.2 L196.8,488.2 L196.7,490.2 L196.5,492.2 L196.3,494.2 L196.2,496.2 L196.0,498.2 L195.9,500.2 L195.7,502.1 L195.5,504.1 L195.4,506.1 L195.2,508.1 L195.1,510.1 L194.9,512.1 L194.8,514.1 L194.6,516.1 L194.5,518.1 L194.3,520.1 L194.2,522.1 L194.0,524.1 L193.9,526.1 L193.8,528.1 L193.6,530.1 L193.5,532.0 L193.3,534.0 L193.2,536.0 L193.1,538.0 L193.0,540.0 L192.8,542.0 L192.7,544.0 L192.6,546.0 L192.5,548.0 L192.3,550.0 L192.2,552.0 L192.1,554.0 L192.0,556.0 L191.9,558.0 L191.8,560.0 L191.7,562.0 L191.6,564.0 L191.5,566.0 L191.4,568.0 L191.3,570.0 L191.2,572.0 L191.1,574.0 L191.1,576.0 L191.0,578.0 L190.9,580.0 L190.8,582.0 L190.8,584.0 L190.7,586.0 L190.7,588.0 L190.6,590.0 L190.5,592.1 L190.5,594.1 L190.5,596.1 L190.4,598.1 L190.4,600.1 L190.3,602.1 L190.3,604.1 L190.3,606.1 L190.3,608.1 L190.3,610.2 L190.3,612.2 L190.3,614.2 L190.3,616.2 L190.3,618.2 L190.3,620.2 L190.3,622.3 L190.3,624.3 L190.3,626.3 L190.4,628.3 L190.4,630.3 L190.4,632.4 L190.5,634.4 L190.5,636.4 L190.6,638.4 L190.7,640.4 L190.8,642.5 L190.9,644.5 L191.1,646.5 L191.3,648.5 L191.5,650.4 L191.8,652.4 L192.1,654.4 L192.4,656.3 L192.8,658.3 L193.2,660.2 L193.7,662.1 L194.2,664.0 L194.8,665.9 L195.4,667.8 L196.1,669.7 L196.9,671.5 L197.7,673.3 L198.6,675.1 L199.6,676.8 L200.6,678.5 L201.7,680.2 L202.9,681.8 L204.1,683.3 L205.4,684.8 L206.8,686.2 L208.2,687.6 L209.7,688.9 L211.3,690.1 L212.9,691.3 L214.6,692.4 L216.3,693.4 L218.1,694.3 L219.9,695.2 L221.7,696.0 L223.6,696.8 L225.5,697.4 L227.4,698.1 L229.4,698.6 L231.4,699.1 L233.3,699.6 L235.3,700.0 L237.3,700.4 L239.3,700.7 L241.3,701.0 L243.2,701.3 L245.2,701.5 L247.2,701.7 L249.2,701.8 L251.2,702.0 L253.2,702.0 L255.2,702.1 L257.2,702.2 L259.2,702.2 L261.2,702.2 L263.2,702.2 L265.2,702.1 L267.2,702.1 L269.2,702.0 L271.2,701.9 L273.2,701.9 L275.2,701.8 L277.2,701.7 L279.2,701.6 L281.2,701.5 L283.2,701.4 L285.2,701.3 L287.2,701.2 L289.2,701.1 L291.2,701.0 L293.2,700.9 L295.2,700.8 L297.2,700.7 L299.2,700.6 L301.2,700.5 L303.2,700.4 L305.2,700.3 L307.2,700.2 L309.2,700.1 L311.2,700.0 L313.2,699.9 L315.2,699.8 L317.2,699.7 L319.2,699.6 L321.2,699.4 L323.2,699.3 L325.2,699.2 L327.2,699.1 L329.2,699.0 L331.2,698.9 L333.2,698.8 L335.2,698.6 L337.2,698.5 L339.2,698.4 L341.2,698.3 L343.2,698.1 L345.2,698.0 L347.2,697.9 L349.2,697.8 L351.2,697.6 L353.2,697.5 L355.2,697.4 L357.2,697.3 L359.2,697.1 L361.2,697.0 L363.2,696.9 L365.2,696.7 L367.2,696.6 L369.2,696.5 L371.2,696.3 L373.2,696.2 L375.2,696.1 L377.2,695.9 L379.2,695.8 L381.2,695.6 L383.2,695.5 L385.2,695.4 L387.2,695.2 L389.2,695.1 L391.2,694.9 L393.2,694.8 L395.2,694.6 L397.2,694.5 L399.2,694.3 L401.2,694.2 L403.2,694.1 L405.2,693.9 L407.2,693.8 L409.1,693.6 L411.1,693.5 L413.1,693.3 L415.1,693.1 L417.1,693.0 L419.1,692.8 L421.1,692.7 L423.1,692.5 L425.1,692.4 L427.1,692.2 L429.1,692.1 L431.1,691.9 L433.1,691.8 L435.1,691.6 L437.1,691.4 L439.1,691.3 L441.1,691.1 L443.1,691.0 L445.1,690.8 L447.1,690.6 L449.1,690.5 L451.1,690.3 L453.1,690.1 L455.1,690.0 L457.1,689.8 L459.0,689.6 L461.0,689.5 L463.0,689.3 L465.0,689.2 L467.0,689.0 L469.0,688.8 L471.0,688.6 L473.0,688.5 L475.0,688.3 L477.0,688.1 L479.0,688.0 L481.0,687.8 L483.0,687.6 L485.0,687.5 L487.0,687.3 L489.0,687.1 L491.0,686.9 L493.0,686.8 L495.0,686.6 L496.9,686.4 L498.9,686.2 L500.9,686.1 L502.9,685.9 L504.9,685.7 L506.9,685.5 L508.9,685.4 L510.9,685.2 L512.9,685.0 L514.9,684.8 L516.9,684.7 L518.9,684.5 L520.9,684.3 L522.9,684.1 L524.9,684.0 L526.9,683.8 L528.9,683.6 L530.9,683.4 L532.8,683.2 L534.8,683.1 L536.8,682.9 L538.8,682.7 L540.8,682.5 L542.8,682.3 L544.8,682.2 L546.8,682.0 L548.8,681.8 L550.8,681.6 L552.8,681.4 L554.8,681.2 L556.8,681.1 L558.8,680.9 L560.8,680.7 L562.8,680.5 L564.7,680.3 L566.7,680.1 L568.7,680.0 L570.7,679.8 L572.7,679.6 L574.7,679.4 L576.7,679.2 L578.7,679.0 L580.7,678.9 L582.7,678.7 L584.7,678.5 L586.7,678.3 L588.7,678.1 L590.7,677.9 L592.7,677.7 L594.7,677.6 L596.6,677.4 L598.6,677.2 L600.6,677.0 L602.6,676.8 L604.6,676.6 L606.6,676.5 L608.6,676.3 L610.6,676.1 L612.6,675.9 L614.6,675.7 L616.6,675.5 L618.6,675.3 L620.6,675.2 L622.6,675.0 L624.6,674.8 L626.6,674.6 L628.5,674.4 L630.5,674.2 L632.5,674.1 L634.5,673.9 L636.5,673.7 L638.5,673.5 L640.5,673.3 L642.5,673.1 L644.5,672.9 L646.5,672.8 L648.5,672.6 L650.5,672.4 L652.5,672.2 L654.5,672.0 L656.5,671.8 L658.5,671.7 L660.4,671.5 L662.4,671.3 L664.4,671.1 L666.4,670.9 L668.4,670.7 L670.4,670.6 L672.4,670.4 L674.4,670.2 L676.4,670.0 L678.4,669.8 L680.4,669.7 L682.4,669.5 L684.4,669.3 L686.4,669.1 L688.4,668.9 L690.4,668.8 L692.4,668.6 L694.3,668.4 L696.3,668.2 L698.3,668.0 L700.3,667.9 L702.3,667.7 L704.3,667.5 L706.3,667.3 L708.3,667.2 L710.3,667.0 L712.3,666.8 L714.3,666.6 L716.3,666.4 L718.3,666.3 L720.3,666.1 L722.3,665.9 L724.3,665.8 L726.3,665.6 L728.3,665.4 L730.2,665.2 L732.2,665.1 L734.2,664.9 L736.2,664.7 L738.2,664.5 L740.2,664.4 L742.2,664.2 L744.2,664.0 L746.2,663.9 L748.2,663.7 L750.2,663.5 L752.2,663.4 L754.2,663.2 L756.2,663.0 L758.2,662.9 L760.2,662.7 L762.2,662.5 L764.2,662.4 L766.2,662.2 L768.2,662.0 L770.2,661.9 L772.1,661.7 L774.1,661.5 L776.1,661.4 L778.1,661.2 L780.1,661.1 L782.1,660.9 L784.1,660.7 L786.1,660.6 L788.1,660.4 L790.1,660.3 L792.1,660.1 L794.1,660.0 L796.1,659.8 L798.1,659.6 L800.1,659.5 L802.1,659.3 L804.1,659.2 L806.1,659.0 L808.1,658.9 L810.1,658.7 L812.1,658.6 L814.1,658.4 L816.1,658.3 L818.1,658.1 L820.1,658.0 L822.1,657.8 L824.1,657.7 L826.1,657.5 L828.1,657.4 L830.1,657.3 L832.0,657.1 L834.0,657.0 L836.0,656.8 L838.0,656.7 L840.0,656.5 L842.0,656.4 L844.0,656.3 L846.0,656.1 L848.0,656.0 L850.0,655.9 L852.0,655.7 L854.0,655.6 L856.0,655.5 L858.0,655.3 L860.0,655.2 L862.0,655.1 L864.0,654.9 L866.0,654.8 L868.0,654.7 L870.0,654.5 L872.0,654.4 L874.0,654.2" stroke="#000" stroke-width="2.1"/>
<path d="M371.3,15.5 L371.3,17.5 L371.2,19.5 L371.0,21.5 L370.9,23.5 L370.7,25.5 L370.6,27.5 L370.4,29.5 L370.3,31.5 L370.2,33.5 L370.0,35.5 L369.9,37.5 L369.7,39.5 L369.6,41.5 L369.5,43.5 L369.3,45.5 L369.2,47.4 L369.0,49.4 L368.9,51.4 L368.8,53.4 L368.6,55.4 L368.5,57.4 L368.4,59.4 L368.3,61.4 L368.1,63.4 L368.0,65.4 L367.9,67.4 L367.7,69.4 L367.6,71.4 L367.5,73.4 L367.4,75.4 L367.3,77.4 L367.1,79.4 L367.0,81.4 L366.9,83.4 L366.8,85.4 L366.7,87.4 L366.5,89.4 L366.4,91.4 L366.3,93.4 L366.2,95.4 L366.1,97.4 L366.0,99.4 L365.9,101.4 L365.7,103.4 L365.6,105.4 L365.5,107.4 L365.4,109.4 L365.3,111.3 L365.2,113.3 L365.1,115.3 L365.0,117.3 L364.9,119.3 L364.8,121.3 L364.7,123.3 L364.6,125.3 L364.5,127.3 L364.4,129.3 L364.3,131.3 L364.2,133.3 L364.1,135.3 L364.0,137.3 L363.9,139.3 L363.8,141.3 L363.7,143.3 L363.6,145.3 L363.5,147.3 L363.4,149.3 L363.3,151.3 L363.2,153.3 L363.1,155.3 L363.0,157.3 L362.9,159.3 L362.8,161.3 L362.7,163.3 L362.6,165.3 L362.5,167.3 L362.4,169.3 L362.4,171.3 L362.3,173.3 L362.2,175.3 L362.1,177.3 L362.0,179.3 L361.9,181.3 L361.9,183.3 L361.8,185.3 L361.7,187.3 L361.6,189.3 L361.5,191.3 L361.5,193.3 L361.4,195.3 L361.3,197.3 L361.2,199.3 L361.2,201.3 L361.1,203.3 L361.0,205.3 L361.0,207.3 L360.9,209.3 L360.9,211.3 L360.8,213.3 L360.7,215.3 L360.7,217.3 L360.6,219.3 L360.6,221.3 L360.5,223.3 L360.5,225.3 L360.5,227.3 L360.4,229.3 L360.4,231.3 L360.4,233.3 L360.3,235.3 L360.3,237.3 L360.3,239.3 L360.2,241.3 L360.2,243.3 L360.2,245.3 L360.2,247.3 L360.2,249.3 L360.2,251.3 L360.2,253.3 L360.2,255.3 L360.2,257.3 L360.2,259.3 L360.2,261.3 L360.2,263.3 L360.2,265.3 L360.2,267.3 L360.2,269.3 L360.2,271.3 L360.3,273.3 L360.3,275.3 L360.3,277.3 L360.4,279.3 L360.4,281.3 L360.5,283.3 L360.5,285.3 L360.6,287.3 L360.6,289.3 L360.7,291.3 L360.8,293.3 L360.8,295.3 L360.9,297.3 L361.0,299.3 L361.1,301.3 L361.2,303.3 L361.2,305.3 L361.3,307.3 L361.4,309.3 L361.5,311.3 L361.7,313.3 L361.8,315.3 L361.9,317.3 L362.0,319.3 L362.2,321.3 L362.3,323.3 L362.4,325.3 L362.6,327.3 L362.7,329.3 L362.9,331.3 L363.1,333.3 L363.3,335.3 L363.4,337.3 L363.6,339.3 L363.8,341.2 L364.0,343.2 L364.2,345.2 L364.5,347.2 L364.7,349.2 L364.9,351.2 L365.2,353.2 L365.4,355.1 L365.7,357.1 L365.9,359.1 L366.2,361.1 L366.5,363.1 L366.8,365.0 L367.1,367.0 L367.4,369.0 L367.7,371.0 L368.1,372.9 L368.4,374.9 L368.7,376.9 L369.1,378.8 L369.4,380.8 L369.8,382.8 L370.1,384.7 L370.5,386.7 L370.9,388.6 L371.2,390.6 L371.6,392.6 L372.0,394.5 L372.4,396.5 L372.8,398.4 L373.2,400.4 L373.6,402.3 L374.1,404.2 L374.5,406.2 L375.0,408.1 L375.5,410.1 L376.0,412.0 L376.5,413.9 L377.0,415.9 L377.5,417.8 L378.1,419.7 L378.7,421.6 L379.3,423.6 L379.9,425.5 L380.6,427.4 L381.2,429.3 L381.9,431.2 L382.7,433.1 L383.4,434.9 L384.2,436.8 L384.9,438.7 L385.8,440.5 L386.6,442.4 L387.5,444.2 L388.3,446.0 L389.2,447.8 L390.2,449.6 L391.1,451.4 L392.1,453.1 L393.1,454.9 L394.2,456.6 L395.2,458.3 L396.3,459.9 L397.4,461.6 L398.6,463.2 L399.8,464.9 L401.0,466.4 L402.2,468.0 L403.4,469.5 L404.7,471.1 L406.0,472.6 L407.4,474.0 L408.7,475.5 L410.1,476.9 L411.5,478.3 L412.9,479.7 L414.4,481.0 L415.9,482.3 L417.4,483.6 L418.9,484.9 L420.5,486.2 L422.0,487.4 L423.6,488.6 L425.2,489.8 L426.8,491.0 L428.5,492.1 L430.1,493.2 L431.8,494.3 L433.5,495.4 L435.2,496.4 L436.9,497.5 L438.6,498.5 L440.4,499.5 L442.1,500.4 L443.9,501.4 L445.7,502.3 L447.5,503.2 L449.3,504.1 L451.1,505.0 L453.0,505.8 L454.8,506.6 L456.6,507.4 L458.5,508.2 L460.3,509.0 L462.2,509.7 L464.1,510.4 L466.0,511.1 L467.9,511.8 L469.7,512.5 L471.6,513.1 L473.5,513.8 L475.4,514.4 L477.4,515.0 L479.3,515.5 L481.2,516.1 L483.1,516.6 L485.0,517.1 L487.0,517.7 L488.9,518.1 L490.8,518.6 L492.8,519.1 L494.7,519.5 L496.7,519.9 L498.6,520.4 L500.6,520.8 L502.6,521.2 L504.5,521.5 L506.5,521.9 L508.5,522.2 L510.4,522.6 L512.4,522.9 L514.4,523.2 L516.4,523.5 L518.4,523.8 L520.3,524.1 L522.3,524.3 L524.3,524.6 L526.3,524.8 L528.3,525.1 L530.3,525.3 L532.3,525.5 L534.3,525.7 L536.3,525.9 L538.3,526.1 L540.3,526.3 L542.3,526.5 L544.3,526.7 L546.3,526.8 L548.3,527.0 L550.3,527.1 L552.3,527.3 L554.3,527.4 L556.3,527.6 L558.3,527.7 L560.3,527.8 L562.3,527.9 L564.3,528.0 L566.3,528.1 L568.3,528.2 L570.3,528.3 L572.3,528.4 L574.3,528.5 L576.3,528.6 L578.3,528.7 L580.3,528.8 L582.3,528.8 L584.3,528.9 L586.3,529.0 L588.3,529.0 L590.3,529.1 L592.3,529.1 L594.3,529.2 L596.2,529.2 L598.2,529.2 L600.2,529.3 L602.2,529.3 L604.2,529.3 L606.2,529.3 L608.2,529.4 L610.2,529.4 L612.2,529.4 L614.2,529.4 L616.2,529.4 L618.2,529.4 L620.2,529.4 L622.2,529.4 L624.2,529.4 L626.2,529.4 L628.2,529.4 L630.2,529.4 L632.2,529.3 L634.2,529.3 L636.2,529.3 L638.2,529.3 L640.2,529.3 L642.2,529.2 L644.2,529.2 L646.2,529.2 L648.2,529.1 L650.2,529.1 L652.2,529.1 L654.2,529.0 L656.2,529.0 L658.2,529.0 L660.2,528.9 L662.2,528.9 L664.2,528.8 L666.2,528.8 L668.2,528.7 L670.2,528.7 L672.2,528.6 L674.2,528.6 L676.2,528.6 L678.2,528.5 L680.2,528.5 L682.2,528.4 L684.2,528.4 L686.2,528.3 L688.2,528.3 L690.2,528.2 L692.2,528.2 L694.2,528.1 L696.2,528.1 L698.2,528.0 L700.2,528.0 L702.2,527.9 L704.2,527.9 L706.2,527.8 L708.2,527.8 L710.2,527.7 L712.2,527.7 L714.2,527.6 L716.2,527.6 L718.2,527.5 L720.2,527.4 L722.2,527.4 L724.2,527.3 L726.2,527.3 L728.2,527.2 L730.2,527.2 L732.2,527.1 L734.2,527.0 L736.2,527.0 L738.2,526.9 L740.2,526.9 L742.2,526.8 L744.2,526.7 L746.2,526.7 L748.2,526.6 L750.2,526.5 L752.2,526.4 L754.2,526.4 L756.2,526.3 L758.2,526.2 L760.2,526.1 L762.2,526.1 L764.2,526.0 L766.2,525.9 L768.2,525.8 L770.2,525.7 L772.2,525.7 L774.2,525.6 L776.2,525.5 L778.2,525.4 L780.2,525.3 L782.2,525.2 L784.2,525.1 L786.2,525.0 L788.2,524.9 L790.2,524.8 L792.2,524.7 L794.2,524.6 L796.2,524.5 L798.2,524.4 L800.2,524.2 L802.2,524.1 L804.2,524.0 L806.2,523.9 L808.2,523.8 L810.2,523.6 L812.2,523.5 L814.2,523.4 L816.2,523.3 L818.2,523.1 L820.2,523.0 L822.2,522.9 L824.2,522.7 L826.2,522.6 L828.2,522.4 L830.2,522.3 L832.2,522.1 L834.2,522.0 L836.2,521.8 L838.2,521.6 L840.1,521.5 L842.1,521.3 L844.1,521.1 L846.1,521.0 L848.1,520.8 L850.1,520.6 L852.1,520.4 L854.1,520.2 L856.1,520.1 L858.1,519.9 L860.1,519.7 L862.1,519.5 L864.1,519.3 L866.0,519.1 L868.0,518.9 L870.0,518.6 L872.0,518.4 L874.0,518.2" stroke="#000" stroke-width="2.1" stroke-dasharray="7.9 10.72" stroke-dashoffset="8.87" stroke-linecap="round"/>
<path d="M301.8,15.5 L301.5,17.5 L301.3,19.5 L301.0,21.5 L300.8,23.4 L300.5,25.4 L300.3,27.4 L300.0,29.4 L299.8,31.4 L299.6,33.4 L299.3,35.4 L299.1,37.4 L298.9,39.3 L298.7,41.3 L298.4,43.3 L298.2,45.3 L298.0,47.3 L297.8,49.3 L297.6,51.3 L297.4,53.3 L297.2,55.3 L297.0,57.2 L296.8,59.2 L296.6,61.2 L296.4,63.2 L296.2,65.2 L296.0,67.2 L295.8,69.2 L295.6,71.2 L295.4,73.2 L295.3,75.2 L295.1,77.2 L294.9,79.1 L294.7,81.1 L294.5,83.1 L294.4,85.1 L294.2,87.1 L294.0,89.1 L293.9,91.1 L293.7,93.1 L293.5,95.1 L293.4,97.1 L293.2,99.1 L293.1,101.1 L292.9,103.1 L292.7,105.1 L292.6,107.0 L292.4,109.0 L292.3,111.0 L292.1,113.0 L292.0,115.0 L291.8,117.0 L291.7,119.0 L291.5,121.0 L291.4,123.0 L291.2,125.0 L291.1,127.0 L290.9,129.0 L290.8,131.0 L290.6,133.0 L290.5,135.0 L290.4,137.0 L290.2,139.0 L290.1,141.0 L289.9,142.9 L289.8,144.9 L289.6,146.9 L289.5,148.9 L289.4,150.9 L289.2,152.9 L289.1,154.9 L288.9,156.9 L288.8,158.9 L288.7,160.9 L288.5,162.9 L288.4,164.9 L288.2,166.9 L288.1,168.9 L288.0,170.9 L287.8,172.9 L287.7,174.9 L287.5,176.9 L287.4,178.9 L287.2,180.9 L287.1,182.9 L287.0,184.8 L286.8,186.8 L286.7,188.8 L286.5,190.8 L286.4,192.8 L286.2,194.8 L286.1,196.8 L285.9,198.8 L285.8,200.8 L285.6,202.8 L285.4,204.8 L285.3,206.8 L285.1,208.8 L285.0,210.8 L284.8,212.8 L284.7,214.8 L284.5,216.8 L284.3,218.7 L284.2,220.7 L284.0,222.7 L283.8,224.7 L283.7,226.7 L283.5,228.7 L283.3,230.7 L283.2,232.7 L283.0,234.7 L282.8,236.7 L282.6,238.7 L282.5,240.7 L282.3,242.7 L282.1,244.7 L281.9,246.7 L281.8,248.6 L281.6,250.6 L281.4,252.6 L281.3,254.6 L281.1,256.6 L280.9,258.6 L280.7,260.6 L280.6,262.6 L280.4,264.6 L280.2,266.6 L280.0,268.6 L279.9,270.6 L279.7,272.6 L279.5,274.5 L279.4,276.5 L279.2,278.5 L279.0,280.5 L278.9,282.5 L278.7,284.5 L278.5,286.5 L278.4,288.5 L278.2,290.5 L278.1,292.5 L277.9,294.5 L277.8,296.5 L277.6,298.5 L277.5,300.5 L277.3,302.5 L277.2,304.4 L277.0,306.4 L276.9,308.4 L276.7,310.4 L276.6,312.4 L276.5,314.4 L276.3,316.4 L276.2,318.4 L276.1,320.4 L275.9,322.4 L275.8,324.4 L275.7,326.4 L275.6,328.4 L275.4,330.4 L275.3,332.4 L275.2,334.4 L275.1,336.4 L275.0,338.4 L274.9,340.4 L274.8,342.4 L274.7,344.4 L274.6,346.4 L274.5,348.4 L274.4,350.3 L274.3,352.3 L274.2,354.3 L274.1,356.3 L274.0,358.3 L273.9,360.3 L273.8,362.3 L273.7,364.3 L273.6,366.3 L273.5,368.3 L273.4,370.3 L273.3,372.3 L273.2,374.3 L273.2,376.3 L273.1,378.3 L273.0,380.3 L272.9,382.3 L272.8,384.3 L272.7,386.3 L272.7,388.3 L272.6,390.3 L272.5,392.3 L272.4,394.3 L272.4,396.3 L272.3,398.3 L272.2,400.3 L272.1,402.3 L272.0,404.3 L272.0,406.3 L271.9,408.3 L271.8,410.3 L271.7,412.3 L271.7,414.3 L271.6,416.3 L271.5,418.3 L271.5,420.3 L271.4,422.3 L271.4,424.3 L271.3,426.3 L271.2,428.3 L271.2,430.3 L271.1,432.3 L271.1,434.3 L271.1,436.3 L271.0,438.3 L271.0,440.3 L270.9,442.3 L270.9,444.3 L270.9,446.3 L270.9,448.3 L270.9,450.3 L270.9,452.3 L270.9,454.3 L270.9,456.3 L270.9,458.3 L270.9,460.3 L270.9,462.3 L270.9,464.3 L271.0,466.3 L271.0,468.3 L271.1,470.3 L271.1,472.3 L271.2,474.3 L271.3,476.3 L271.3,478.3 L271.4,480.3 L271.5,482.3 L271.6,484.3 L271.7,486.3 L271.8,488.3 L272.0,490.3 L272.1,492.3 L272.2,494.3 L272.4,496.3 L272.6,498.3 L272.7,500.2 L272.9,502.2 L273.1,504.2 L273.3,506.2 L273.6,508.2 L273.8,510.2 L274.0,512.2 L274.3,514.1 L274.6,516.1 L274.9,518.1 L275.2,520.1 L275.5,522.0 L275.8,524.0 L276.2,526.0 L276.6,527.9 L277.0,529.9 L277.4,531.8 L277.8,533.8 L278.2,535.8 L278.7,537.7 L279.2,539.6 L279.7,541.6 L280.2,543.5 L280.8,545.4 L281.4,547.3 L282.0,549.3 L282.7,551.2 L283.4,553.0 L284.1,554.9 L284.8,556.8 L285.6,558.6 L286.4,560.5 L287.3,562.3 L288.2,564.1 L289.1,565.9 L290.1,567.7 L291.1,569.4 L292.2,571.2 L293.3,572.9 L294.4,574.6 L295.6,576.2 L296.8,577.9 L298.0,579.5 L299.3,581.1 L300.6,582.6 L301.9,584.1 L303.3,585.6 L304.7,587.0 L306.1,588.4 L307.5,589.8 L309.0,591.1 L310.5,592.4 L312.1,593.6 L313.6,594.8 L315.2,595.9 L316.8,597.0 L318.5,598.1 L320.1,599.1 L321.8,600.1 L323.5,601.0 L325.3,601.9 L327.0,602.8 L328.8,603.6 L330.6,604.4 L332.4,605.1 L334.2,605.9 L336.1,606.5 L337.9,607.2 L339.8,607.8 L341.7,608.4 L343.6,609.0 L345.5,609.5 L347.4,610.1 L349.4,610.6 L351.3,611.0 L353.3,611.5 L355.3,611.9 L357.2,612.3 L359.2,612.7 L361.2,613.0 L363.2,613.4 L365.2,613.7 L367.2,614.0 L369.2,614.3 L371.2,614.6 L373.3,614.9 L375.3,615.1 L377.3,615.4 L379.3,615.6 L381.3,615.8 L383.3,616.1 L385.4,616.3 L387.4,616.5 L389.4,616.7 L391.4,616.8 L393.4,617.0 L395.4,617.2 L397.4,617.3 L399.4,617.5 L401.4,617.6 L403.5,617.8 L405.5,617.9 L407.5,618.0 L409.5,618.1 L411.5,618.2 L413.5,618.3 L415.5,618.4 L417.5,618.5 L419.5,618.5 L421.5,618.6 L423.5,618.7 L425.5,618.7 L427.5,618.7 L429.5,618.8 L431.5,618.8 L433.5,618.8 L435.5,618.9 L437.5,618.9 L439.5,618.9 L441.5,618.9 L443.5,618.9 L445.5,618.9 L447.5,618.9 L449.5,618.8 L451.5,618.8 L453.5,618.8 L455.5,618.7 L457.5,618.7 L459.5,618.7 L461.5,618.6 L463.4,618.6 L465.4,618.5 L467.4,618.4 L469.4,618.4 L471.4,618.3 L473.4,618.2 L475.4,618.2 L477.4,618.1 L479.4,618.0 L481.4,617.9 L483.4,617.8 L485.4,617.7 L487.4,617.6 L489.3,617.5 L491.3,617.4 L493.3,617.3 L495.3,617.2 L497.3,617.1 L499.3,617.0 L501.3,616.9 L503.3,616.8 L505.3,616.6 L507.3,616.5 L509.3,616.4 L511.2,616.3 L513.2,616.2 L515.2,616.0 L517.2,615.9 L519.2,615.8 L521.2,615.7 L523.2,615.5 L525.2,615.4 L527.2,615.3 L529.2,615.1 L531.2,615.0 L533.2,614.9 L535.1,614.8 L537.1,614.6 L539.1,614.5 L541.1,614.4 L543.1,614.2 L545.1,614.1 L547.1,613.9 L549.1,613.8 L551.1,613.7 L553.1,613.5 L555.1,613.4 L557.1,613.3 L559.1,613.1 L561.1,613.0 L563.1,612.8 L565.0,612.7 L567.0,612.5 L569.0,612.4 L571.0,612.3 L573.0,612.1 L575.0,612.0 L577.0,611.8 L579.0,611.7 L581.0,611.5 L583.0,611.4 L585.0,611.2 L587.0,611.1 L589.0,610.9 L591.0,610.8 L593.0,610.6 L595.0,610.5 L597.0,610.3 L598.9,610.2 L600.9,610.0 L602.9,609.9 L604.9,609.7 L606.9,609.6 L608.9,609.4 L610.9,609.3 L612.9,609.1 L614.9,608.9 L616.9,608.8 L618.9,608.6 L620.9,608.5 L622.9,608.3 L624.9,608.1 L626.9,608.0 L628.9,607.8 L630.9,607.7 L632.9,607.5 L634.9,607.3 L636.9,607.2 L638.8,607.0 L640.8,606.9 L642.8,606.7 L644.8,606.5 L646.8,606.4 L648.8,606.2 L650.8,606.0 L652.8,605.9 L654.8,605.7 L656.8,605.5 L658.8,605.4 L660.8,605.2 L662.8,605.0 L664.8,604.9 L666.8,604.7 L668.8,604.5 L670.8,604.4 L672.8,604.2 L674.8,604.0 L676.8,603.9 L678.8,603.7 L680.8,603.5 L682.7,603.4 L684.7,603.2 L686.7,603.0 L688.7,602.8 L690.7,602.7 L692.7,602.5 L694.7,602.3 L696.7,602.2 L698.7,602.0 L700.7,601.8 L702.7,601.6 L704.7,601.5 L706.7,601.3 L708.7,601.1 L710.7,600.9 L712.7,600.8 L714.7,600.6 L716.7,600.4 L718.7,600.2 L720.7,600.1 L722.6,599.9 L724.6,599.7 L726.6,599.5 L728.6,599.4 L730.6,599.2 L732.6,599.0 L734.6,598.8 L736.6,598.7 L738.6,598.5 L740.6,598.3 L742.6,598.1 L744.6,598.0 L746.6,597.8 L748.6,597.6 L750.6,597.4 L752.6,597.2 L754.6,597.1 L756.5,596.9 L758.5,596.7 L760.5,596.5 L762.5,596.3 L764.5,596.2 L766.5,596.0 L768.5,595.8 L770.5,595.6 L772.5,595.5 L774.5,595.3 L776.5,595.1 L778.5,594.9 L780.5,594.7 L782.5,594.6 L784.4,594.4 L786.4,594.2 L788.4,594.0 L790.4,593.8 L792.4,593.7 L794.4,593.5 L796.4,593.3 L798.4,593.1 L800.4,592.9 L802.4,592.8 L804.4,592.6 L806.4,592.4 L808.3,592.2 L810.3,592.0 L812.3,591.9 L814.3,591.7 L816.3,591.5 L818.3,591.3 L820.3,591.1 L822.3,591.0 L824.3,590.8 L826.3,590.6 L828.2,590.4 L830.2,590.2 L832.2,590.1 L834.2,589.9 L836.2,589.7 L838.2,589.5 L840.2,589.4 L842.2,589.2 L844.2,589.0 L846.1,588.8 L848.1,588.6 L850.1,588.5 L852.1,588.3 L854.1,588.1 L856.1,587.9 L858.1,587.7 L860.1,587.6 L862.0,587.4 L864.0,587.2 L866.0,587.0 L868.0,586.9 L870.0,586.7 L872.0,586.5 L874.0,586.4" stroke="#000" stroke-width="2.1" stroke-dasharray="7.9 10.72" stroke-dashoffset="9.83" stroke-linecap="round"/>
<path d="M260.5,15.5 L260.3,17.5 L260.1,19.5 L260.0,21.5 L259.8,23.5 L259.6,25.5 L259.4,27.5 L259.2,29.5 L259.0,31.5 L258.9,33.4 L258.7,35.4 L258.5,37.4 L258.3,39.4 L258.1,41.4 L257.9,43.4 L257.8,45.4 L257.6,47.4 L257.4,49.4 L257.2,51.4 L257.0,53.4 L256.8,55.4 L256.7,57.4 L256.5,59.4 L256.3,61.4 L256.1,63.4 L255.9,65.4 L255.7,67.3 L255.6,69.3 L255.4,71.3 L255.2,73.3 L255.0,75.3 L254.8,77.3 L254.6,79.3 L254.4,81.3 L254.3,83.3 L254.1,85.3 L253.9,87.3 L253.7,89.3 L253.5,91.3 L253.3,93.2 L253.1,95.2 L253.0,97.2 L252.8,99.2 L252.6,101.2 L252.4,103.2 L252.2,105.2 L252.0,107.2 L251.8,109.2 L251.7,111.2 L251.5,113.2 L251.3,115.1 L251.1,117.1 L250.9,119.1 L250.7,121.1 L250.5,123.1 L250.3,125.1 L250.2,127.1 L250.0,129.1 L249.8,131.1 L249.6,133.1 L249.4,135.1 L249.2,137.0 L249.0,139.0 L248.9,141.0 L248.7,143.0 L248.5,145.0 L248.3,147.0 L248.1,149.0 L247.9,151.0 L247.7,153.0 L247.5,155.0 L247.4,157.0 L247.2,158.9 L247.0,160.9 L246.8,162.9 L246.6,164.9 L246.4,166.9 L246.2,168.9 L246.0,170.9 L245.9,172.9 L245.7,174.9 L245.5,176.8 L245.3,178.8 L245.1,180.8 L244.9,182.8 L244.7,184.8 L244.5,186.8 L244.3,188.8 L244.2,190.8 L244.0,192.8 L243.8,194.8 L243.6,196.7 L243.4,198.7 L243.2,200.7 L243.0,202.7 L242.8,204.7 L242.6,206.7 L242.5,208.7 L242.3,210.7 L242.1,212.7 L241.9,214.7 L241.7,216.6 L241.5,218.6 L241.3,220.6 L241.1,222.6 L240.9,224.6 L240.8,226.6 L240.6,228.6 L240.4,230.6 L240.2,232.6 L240.0,234.6 L239.8,236.5 L239.6,238.5 L239.4,240.5 L239.2,242.5 L239.1,244.5 L238.9,246.5 L238.7,248.5 L238.5,250.5 L238.3,252.5 L238.1,254.5 L237.9,256.5 L237.7,258.4 L237.5,260.4 L237.4,262.4 L237.2,264.4 L237.0,266.4 L236.8,268.4 L236.6,270.4 L236.4,272.4 L236.2,274.4 L236.0,276.4 L235.8,278.4 L235.7,280.3 L235.5,282.3 L235.3,284.3 L235.1,286.3 L234.9,288.3 L234.7,290.3 L234.5,292.3 L234.3,294.3 L234.1,296.3 L233.9,298.3 L233.8,300.3 L233.6,302.3 L233.4,304.3 L233.2,306.2 L233.0,308.2 L232.8,310.2 L232.6,312.2 L232.4,314.2 L232.2,316.2 L232.1,318.2 L231.9,320.2 L231.7,322.2 L231.5,324.2 L231.3,326.2 L231.1,328.2 L230.9,330.2 L230.7,332.2 L230.5,334.1 L230.4,336.1 L230.2,338.1 L230.0,340.1 L229.8,342.1 L229.6,344.1 L229.4,346.1 L229.2,348.1 L229.0,350.1 L228.9,352.1 L228.7,354.1 L228.5,356.1 L228.3,358.1 L228.1,360.1 L227.9,362.1 L227.7,364.1 L227.6,366.1 L227.4,368.1 L227.2,370.0 L227.0,372.0 L226.8,374.0 L226.6,376.0 L226.5,378.0 L226.3,380.0 L226.1,382.0 L225.9,384.0 L225.7,386.0 L225.6,388.0 L225.4,390.0 L225.2,392.0 L225.0,394.0 L224.8,396.0 L224.7,398.0 L224.5,400.0 L224.3,402.0 L224.1,403.9 L224.0,405.9 L223.8,407.9 L223.6,409.9 L223.4,411.9 L223.3,413.9 L223.1,415.9 L222.9,417.9 L222.8,419.9 L222.6,421.9 L222.4,423.9 L222.3,425.9 L222.1,427.9 L221.9,429.9 L221.8,431.9 L221.6,433.8 L221.5,435.8 L221.3,437.8 L221.1,439.8 L221.0,441.8 L220.8,443.8 L220.7,445.8 L220.5,447.8 L220.3,449.8 L220.2,451.8 L220.0,453.8 L219.9,455.8 L219.7,457.7 L219.6,459.7 L219.4,461.7 L219.3,463.7 L219.1,465.7 L219.0,467.7 L218.9,469.7 L218.7,471.7 L218.6,473.7 L218.4,475.7 L218.3,477.6 L218.1,479.6 L218.0,481.6 L217.9,483.6 L217.7,485.6 L217.6,487.6 L217.5,489.6 L217.3,491.6 L217.2,493.5 L217.1,495.5 L217.0,497.5 L216.8,499.5 L216.7,501.5 L216.6,503.5 L216.5,505.5 L216.4,507.5 L216.3,509.5 L216.2,511.4 L216.1,513.4 L216.0,515.4 L215.9,517.4 L215.8,519.4 L215.7,521.4 L215.6,523.4 L215.5,525.4 L215.4,527.4 L215.3,529.4 L215.3,531.4 L215.2,533.4 L215.1,535.4 L215.1,537.4 L215.0,539.4 L214.9,541.4 L214.9,543.4 L214.8,545.4 L214.8,547.4 L214.8,549.4 L214.7,551.4 L214.7,553.4 L214.7,555.4 L214.6,557.4 L214.6,559.4 L214.6,561.4 L214.6,563.4 L214.6,565.4 L214.6,567.4 L214.6,569.4 L214.6,571.5 L214.7,573.5 L214.7,575.5 L214.7,577.5 L214.8,579.5 L214.8,581.6 L214.9,583.6 L214.9,585.6 L215.0,587.6 L215.1,589.7 L215.2,591.7 L215.3,593.7 L215.4,595.7 L215.5,597.8 L215.6,599.8 L215.8,601.8 L216.0,603.8 L216.2,605.8 L216.4,607.8 L216.7,609.8 L217.0,611.8 L217.3,613.7 L217.7,615.7 L218.0,617.6 L218.5,619.6 L218.9,621.5 L219.4,623.4 L219.9,625.3 L220.5,627.2 L221.1,629.1 L221.8,631.0 L222.5,632.8 L223.2,634.6 L224.0,636.4 L224.9,638.2 L225.8,640.0 L226.7,641.7 L227.8,643.4 L228.8,645.1 L229.9,646.8 L231.1,648.4 L232.3,650.0 L233.6,651.5 L235.0,653.0 L236.4,654.5 L237.8,655.8 L239.3,657.2 L240.9,658.4 L242.4,659.6 L244.1,660.8 L245.7,661.9 L247.4,662.9 L249.2,663.9 L250.9,664.8 L252.7,665.6 L254.6,666.4 L256.4,667.1 L258.3,667.8 L260.1,668.4 L262.1,669.0 L264.0,669.5 L265.9,670.0 L267.9,670.4 L269.8,670.8 L271.8,671.2 L273.8,671.5 L275.8,671.8 L277.8,672.1 L279.8,672.4 L281.8,672.6 L283.9,672.8 L285.9,673.0 L287.9,673.2 L289.9,673.4 L291.9,673.6 L293.9,673.7 L295.9,673.9 L297.9,674.0 L300.0,674.2 L302.0,674.3 L304.0,674.4 L306.0,674.5 L308.0,674.6 L310.0,674.7 L312.0,674.7 L314.0,674.8 L316.0,674.9 L318.0,674.9 L320.0,674.9 L322.0,675.0 L324.0,675.0 L326.0,675.0 L328.0,675.0 L330.0,675.0 L332.0,675.0 L334.0,675.0 L336.0,675.0 L338.0,674.9 L340.0,674.9 L342.0,674.9 L344.0,674.8 L346.0,674.8 L348.0,674.7 L350.0,674.6 L352.0,674.6 L354.0,674.5 L356.0,674.4 L358.0,674.4 L360.0,674.3 L362.0,674.2 L363.9,674.1 L365.9,674.0 L367.9,673.9 L369.9,673.8 L371.9,673.7 L373.9,673.6 L375.9,673.5 L377.9,673.4 L379.9,673.3 L381.9,673.1 L383.9,673.0 L385.9,672.9 L387.9,672.8 L389.9,672.7 L391.9,672.5 L393.9,672.4 L395.8,672.3 L397.8,672.2 L399.8,672.0 L401.8,671.9 L403.8,671.8 L405.8,671.6 L407.8,671.5 L409.8,671.4 L411.8,671.2 L413.8,671.1 L415.8,670.9 L417.8,670.8 L419.8,670.6 L421.8,670.5 L423.8,670.4 L425.7,670.2 L427.7,670.1 L429.7,669.9 L431.7,669.7 L433.7,669.6 L435.7,669.4 L437.7,669.3 L439.7,669.1 L441.7,669.0 L443.7,668.8 L445.7,668.6 L447.7,668.5 L449.7,668.3 L451.7,668.1 L453.7,668.0 L455.6,667.8 L457.6,667.6 L459.6,667.5 L461.6,667.3 L463.6,667.1 L465.6,667.0 L467.6,666.8 L469.6,666.6 L471.6,666.4 L473.6,666.3 L475.6,666.1 L477.6,665.9 L479.6,665.7 L481.6,665.5 L483.6,665.4 L485.5,665.2 L487.5,665.0 L489.5,664.8 L491.5,664.6 L493.5,664.4 L495.5,664.3 L497.5,664.1 L499.5,663.9 L501.5,663.7 L503.5,663.5 L505.5,663.3 L507.5,663.1 L509.5,662.9 L511.5,662.8 L513.4,662.6 L515.4,662.4 L517.4,662.2 L519.4,662.0 L521.4,661.8 L523.4,661.6 L525.4,661.4 L527.4,661.2 L529.4,661.0 L531.4,660.8 L533.4,660.6 L535.4,660.4 L537.4,660.2 L539.4,660.1 L541.3,659.9 L543.3,659.7 L545.3,659.5 L547.3,659.3 L549.3,659.1 L551.3,658.9 L553.3,658.7 L555.3,658.5 L557.3,658.3 L559.3,658.1 L561.3,657.9 L563.3,657.7 L565.3,657.5 L567.2,657.3 L569.2,657.1 L571.2,656.9 L573.2,656.7 L575.2,656.5 L577.2,656.3 L579.2,656.1 L581.2,656.0 L583.2,655.8 L585.2,655.6 L587.2,655.4 L589.2,655.2 L591.2,655.0 L593.1,654.8 L595.1,654.6 L597.1,654.4 L599.1,654.2 L601.1,654.0 L603.1,653.8 L605.1,653.6 L607.1,653.4 L609.1,653.3 L611.1,653.1 L613.1,652.9 L615.0,652.7 L617.0,652.5 L619.0,652.3 L621.0,652.1 L623.0,651.9 L625.0,651.7 L627.0,651.5 L629.0,651.4 L631.0,651.2 L633.0,651.0 L635.0,650.8 L637.0,650.6 L638.9,650.4 L640.9,650.2 L642.9,650.0 L644.9,649.8 L646.9,649.7 L648.9,649.5 L650.9,649.3 L652.9,649.1 L654.9,648.9 L656.9,648.7 L658.9,648.5 L660.8,648.4 L662.8,648.2 L664.8,648.0 L666.8,647.8 L668.8,647.6 L670.8,647.4 L672.8,647.2 L674.8,647.1 L676.8,646.9 L678.8,646.7 L680.8,646.5 L682.8,646.3 L684.7,646.1 L686.7,646.0 L688.7,645.8 L690.7,645.6 L692.7,645.4 L694.7,645.2 L696.7,645.0 L698.7,644.8 L700.7,644.7 L702.7,644.5 L704.7,644.3 L706.6,644.1 L708.6,643.9 L710.6,643.8 L712.6,643.6 L714.6,643.4 L716.6,643.2 L718.6,643.0 L720.6,642.8 L722.6,642.7 L724.6,642.5 L726.6,642.3 L728.5,642.1 L730.5,641.9 L732.5,641.8 L734.5,641.6 L736.5,641.4 L738.5,641.2 L740.5,641.0 L742.5,640.8 L744.5,640.7 L746.5,640.5 L748.5,640.3 L750.5,640.1 L752.4,639.9 L754.4,639.8 L756.4,639.6 L758.4,639.4 L760.4,639.2 L762.4,639.0 L764.4,638.9 L766.4,638.7 L768.4,638.5 L770.4,638.3 L772.4,638.1 L774.4,638.0 L776.3,637.8 L778.3,637.6 L780.3,637.4 L782.3,637.2 L784.3,637.1 L786.3,636.9 L788.3,636.7 L790.3,636.5 L792.3,636.3 L794.3,636.2 L796.3,636.0 L798.3,635.8 L800.3,635.6 L802.2,635.4 L804.2,635.3 L806.2,635.1 L808.2,634.9 L810.2,634.7 L812.2,634.5 L814.2,634.4 L816.2,634.2 L818.2,634.0 L820.2,633.8 L822.2,633.6 L824.2,633.5 L826.2,633.3 L828.1,633.1 L830.1,632.9 L832.1,632.7 L834.1,632.6 L836.1,632.4 L838.1,632.2 L840.1,632.0 L842.1,631.8 L844.1,631.7 L846.1,631.5 L848.1,631.3 L850.1,631.1 L852.1,630.9 L854.1,630.8 L856.1,630.6 L858.0,630.4 L860.0,630.2 L862.0,630.0 L864.0,629.9 L866.0,629.7 L868.0,629.5 L870.0,629.3 L872.0,629.1 L874.0,629.0" stroke="#000" stroke-width="2.1" stroke-dasharray="7.9 10.72" stroke-dashoffset="10.56" stroke-linecap="round"/>
<path d="M232.4,15.5 L232.3,17.5 L232.1,19.5 L231.9,21.5 L231.8,23.5 L231.6,25.5 L231.4,27.5 L231.3,29.5 L231.1,31.5 L230.9,33.5 L230.8,35.5 L230.6,37.5 L230.4,39.5 L230.3,41.4 L230.1,43.4 L229.9,45.4 L229.8,47.4 L229.6,49.4 L229.4,51.4 L229.3,53.4 L229.1,55.4 L228.9,57.4 L228.8,59.4 L228.6,61.4 L228.4,63.4 L228.3,65.4 L228.1,67.4 L227.9,69.4 L227.8,71.4 L227.6,73.4 L227.4,75.4 L227.3,77.4 L227.1,79.4 L226.9,81.4 L226.7,83.4 L226.6,85.4 L226.4,87.3 L226.2,89.3 L226.1,91.3 L225.9,93.3 L225.7,95.3 L225.5,97.3 L225.4,99.3 L225.2,101.3 L225.0,103.3 L224.9,105.3 L224.7,107.3 L224.5,109.3 L224.3,111.3 L224.2,113.3 L224.0,115.3 L223.8,117.3 L223.7,119.3 L223.5,121.3 L223.3,123.3 L223.1,125.3 L223.0,127.3 L222.8,129.3 L222.6,131.3 L222.4,133.2 L222.3,135.2 L222.1,137.2 L221.9,139.2 L221.7,141.2 L221.6,143.2 L221.4,145.2 L221.2,147.2 L221.0,149.2 L220.9,151.2 L220.7,153.2 L220.5,155.2 L220.3,157.2 L220.2,159.2 L220.0,161.2 L219.8,163.2 L219.6,165.2 L219.5,167.2 L219.3,169.2 L219.1,171.2 L218.9,173.2 L218.8,175.1 L218.6,177.1 L218.4,179.1 L218.2,181.1 L218.0,183.1 L217.9,185.1 L217.7,187.1 L217.5,189.1 L217.3,191.1 L217.2,193.1 L217.0,195.1 L216.8,197.1 L216.6,199.1 L216.5,201.1 L216.3,203.1 L216.1,205.1 L215.9,207.1 L215.7,209.1 L215.6,211.1 L215.4,213.1 L215.2,215.1 L215.0,217.0 L214.8,219.0 L214.7,221.0 L214.5,223.0 L214.3,225.0 L214.1,227.0 L213.9,229.0 L213.8,231.0 L213.6,233.0 L213.4,235.0 L213.2,237.0 L213.0,239.0 L212.9,241.0 L212.7,243.0 L212.5,245.0 L212.3,247.0 L212.1,249.0 L212.0,251.0 L211.8,253.0 L211.6,254.9 L211.4,256.9 L211.2,258.9 L211.1,260.9 L210.9,262.9 L210.7,264.9 L210.5,266.9 L210.3,268.9 L210.2,270.9 L210.0,272.9 L209.8,274.9 L209.6,276.9 L209.4,278.9 L209.2,280.9 L209.1,282.9 L208.9,284.9 L208.7,286.9 L208.5,288.9 L208.3,290.9 L208.2,292.8 L208.0,294.8 L207.8,296.8 L207.6,298.8 L207.4,300.8 L207.2,302.8 L207.1,304.8 L206.9,306.8 L206.7,308.8 L206.5,310.8 L206.3,312.8 L206.1,314.8 L206.0,316.8 L205.8,318.8 L205.6,320.8 L205.4,322.8 L205.2,324.8 L205.0,326.8 L204.9,328.7 L204.7,330.7 L204.5,332.7 L204.3,334.7 L204.1,336.7 L203.9,338.7 L203.8,340.7 L203.6,342.7 L203.4,344.7 L203.2,346.7 L203.0,348.7 L202.8,350.7 L202.7,352.7 L202.5,354.7 L202.3,356.7 L202.1,358.7 L201.9,360.6 L201.7,362.6 L201.6,364.6 L201.4,366.6 L201.2,368.6 L201.0,370.6 L200.8,372.6 L200.6,374.6 L200.4,376.6 L200.3,378.6 L200.1,380.6 L199.9,382.6 L199.7,384.6 L199.5,386.6 L199.3,388.6 L199.2,390.6 L199.0,392.5 L198.8,394.5 L198.6,396.5 L198.4,398.5 L198.2,400.5 L198.1,402.5 L197.9,404.5 L197.7,406.5 L197.5,408.5 L197.3,410.5 L197.2,412.5 L197.0,414.5 L196.8,416.5 L196.6,418.5 L196.4,420.5 L196.3,422.5 L196.1,424.5 L195.9,426.5 L195.7,428.5 L195.6,430.4 L195.4,432.4 L195.2,434.4 L195.0,436.4 L194.8,438.4 L194.7,440.4 L194.5,442.4 L194.3,444.4 L194.1,446.4 L194.0,448.4 L193.8,450.4 L193.6,452.4 L193.4,454.4 L193.2,456.4 L193.1,458.4 L192.9,460.4 L192.7,462.4 L192.5,464.4 L192.3,466.4 L192.2,468.4 L192.0,470.4 L191.8,472.4 L191.6,474.3 L191.4,476.3 L191.3,478.3 L191.1,480.3 L190.9,482.3 L190.7,484.3 L190.5,486.3 L190.3,488.3 L190.1,490.3 L190.0,492.3 L189.8,494.3 L189.6,496.3 L189.4,498.3 L189.2,500.3 L189.0,502.3 L188.8,504.2 L188.6,506.2 L188.4,508.2 L188.2,510.2 L188.0,512.2 L187.8,514.2 L187.7,516.2 L187.5,518.2 L187.3,520.2 L187.1,522.2 L186.9,524.2 L186.7,526.2 L186.5,528.2 L186.3,530.1 L186.1,532.1 L186.0,534.1 L185.8,536.1 L185.6,538.1 L185.4,540.1 L185.2,542.1 L185.0,544.1 L184.9,546.1 L184.7,548.1 L184.5,550.1 L184.3,552.1 L184.1,554.1 L184.0,556.0 L183.8,558.0 L183.6,560.0 L183.5,562.0 L183.3,564.0 L183.1,566.0 L183.0,568.0 L182.8,570.0 L182.7,572.0 L182.5,574.0 L182.4,576.0 L182.2,578.0 L182.1,580.0 L181.9,582.0 L181.8,584.0 L181.7,586.0 L181.5,588.0 L181.4,590.0 L181.3,592.0 L181.1,594.0 L181.0,596.0 L180.9,598.0 L180.8,600.0 L180.7,602.0 L180.6,604.0 L180.5,606.0 L180.4,608.0 L180.3,610.0 L180.2,612.0 L180.1,614.0 L180.0,616.0 L179.9,618.0 L179.9,620.0 L179.8,622.0 L179.7,624.0 L179.7,626.0 L179.6,628.0 L179.6,630.0 L179.5,632.0 L179.5,634.0 L179.4,636.0 L179.4,638.0 L179.4,640.0 L179.3,642.1 L179.3,644.1 L179.3,646.1 L179.3,648.1 L179.3,650.1 L179.3,652.1 L179.4,654.1 L179.4,656.1 L179.5,658.1 L179.6,660.1 L179.8,662.1 L179.9,664.1 L180.1,666.1 L180.4,668.1 L180.7,670.1 L181.0,672.0 L181.4,674.0 L181.8,675.9 L182.3,677.9 L182.9,679.8 L183.5,681.7 L184.1,683.6 L184.9,685.5 L185.7,687.3 L186.6,689.1 L187.6,690.9 L188.6,692.6 L189.8,694.2 L191.0,695.8 L192.3,697.2 L193.8,698.5 L195.3,699.8 L196.9,700.9 L198.5,702.0 L200.3,703.0 L202.1,703.9 L203.9,704.7 L205.8,705.4 L207.7,706.1 L209.6,706.7 L211.5,707.3 L213.5,707.8 L215.5,708.2 L217.5,708.6 L219.4,709.0 L221.4,709.2 L223.4,709.5 L225.4,709.7 L227.5,709.9 L229.5,710.0 L231.5,710.1 L233.5,710.2 L235.5,710.3 L237.5,710.3 L239.5,710.3 L241.5,710.3 L243.5,710.3 L245.5,710.2 L247.5,710.2 L249.5,710.1 L251.5,710.0 L253.5,709.9 L255.5,709.8 L257.5,709.7 L259.5,709.6 L261.4,709.5 L263.4,709.4 L265.4,709.3 L267.4,709.2 L269.4,709.1 L271.4,709.0 L273.4,708.9 L275.4,708.8 L277.4,708.7 L279.4,708.6 L281.4,708.5 L283.4,708.4 L285.4,708.3 L287.4,708.1 L289.4,708.0 L291.4,707.9 L293.4,707.8 L295.4,707.7 L297.4,707.5 L299.4,707.4 L301.4,707.3 L303.4,707.1 L305.4,707.0 L307.4,706.9 L309.4,706.7 L311.4,706.6 L313.4,706.5 L315.4,706.3 L317.4,706.2 L319.4,706.1 L321.4,705.9 L323.4,705.8 L325.4,705.6 L327.4,705.5 L329.4,705.3 L331.4,705.2 L333.4,705.0 L335.3,704.9 L337.3,704.7 L339.3,704.6 L341.3,704.4 L343.3,704.3 L345.3,704.1 L347.3,704.0 L349.3,703.8 L351.3,703.6 L353.3,703.5 L355.3,703.3 L357.3,703.2 L359.3,703.0 L361.3,702.8 L363.3,702.7 L365.3,702.5 L367.3,702.3 L369.3,702.2 L371.3,702.0 L373.3,701.8 L375.3,701.7 L377.3,701.5 L379.3,701.3 L381.3,701.1 L383.3,701.0 L385.3,700.8 L387.3,700.6 L389.2,700.4 L391.2,700.3 L393.2,700.1 L395.2,699.9 L397.2,699.7 L399.2,699.5 L401.2,699.4 L403.2,699.2 L405.2,699.0 L407.2,698.8 L409.2,698.6 L411.2,698.4 L413.2,698.3 L415.2,698.1 L417.2,697.9 L419.2,697.7 L421.2,697.5 L423.2,697.3 L425.2,697.1 L427.2,697.0 L429.2,696.8 L431.2,696.6 L433.1,696.4 L435.1,696.2 L437.1,696.0 L439.1,695.8 L441.1,695.6 L443.1,695.4 L445.1,695.2 L447.1,695.0 L449.1,694.9 L451.1,694.7 L453.1,694.5 L455.1,694.3 L457.1,694.1 L459.1,693.9 L461.1,693.7 L463.1,693.5 L465.1,693.3 L467.1,693.1 L469.1,692.9 L471.0,692.7 L473.0,692.5 L475.0,692.3 L477.0,692.1 L479.0,691.9 L481.0,691.7 L483.0,691.6 L485.0,691.4 L487.0,691.2 L489.0,691.0 L491.0,690.8 L493.0,690.6 L495.0,690.4 L497.0,690.2 L499.0,690.0 L501.0,689.8 L503.0,689.6 L504.9,689.4 L506.9,689.2 L508.9,689.0 L510.9,688.8 L512.9,688.6 L514.9,688.4 L516.9,688.2 L518.9,688.0 L520.9,687.9 L522.9,687.7 L524.9,687.5 L526.9,687.3 L528.9,687.1 L530.9,686.9 L532.9,686.7 L534.8,686.5 L536.8,686.3 L538.8,686.1 L540.8,685.9 L542.8,685.8 L544.8,685.6 L546.8,685.4 L548.8,685.2 L550.8,685.0 L552.8,684.8 L554.8,684.6 L556.8,684.4 L558.8,684.3 L560.8,684.1 L562.7,683.9 L564.7,683.7 L566.7,683.5 L568.7,683.3 L570.7,683.2 L572.7,683.0 L574.7,682.8 L576.7,682.6 L578.7,682.4 L580.7,682.3 L582.7,682.1 L584.7,681.9 L586.7,681.7 L588.7,681.6 L590.7,681.4 L592.7,681.2 L594.7,681.1 L596.6,680.9 L598.6,680.7 L600.6,680.5 L602.6,680.4 L604.6,680.2 L606.6,680.1 L608.6,679.9 L610.6,679.7 L612.6,679.6 L614.6,679.4 L616.6,679.2 L618.6,679.1 L620.6,678.9 L622.6,678.8 L624.6,678.6 L626.6,678.4 L628.6,678.3 L630.6,678.1 L632.6,678.0 L634.6,677.8 L636.6,677.7 L638.6,677.5 L640.6,677.3 L642.6,677.2 L644.6,677.0 L646.6,676.9 L648.6,676.7 L650.6,676.5 L652.6,676.4 L654.5,676.2 L656.5,676.1 L658.5,675.9 L660.5,675.7 L662.5,675.6 L664.5,675.4 L666.5,675.2 L668.5,675.1 L670.5,674.9 L672.5,674.7 L674.5,674.5 L676.5,674.4 L678.5,674.2 L680.5,674.0 L682.5,673.8 L684.5,673.7 L686.5,673.5 L688.5,673.3 L690.5,673.1 L692.5,672.9 L694.5,672.7 L696.5,672.5 L698.4,672.3 L700.4,672.1 L702.4,671.9 L704.4,671.7 L706.4,671.5 L708.4,671.3 L710.4,671.1 L712.4,670.9 L714.4,670.7 L716.4,670.5 L718.4,670.3 L720.4,670.1 L722.4,669.9 L724.3,669.6 L726.3,669.4 L728.3,669.2 L730.3,669.0 L732.3,668.8 L734.3,668.6 L736.3,668.4 L738.3,668.1 L740.3,667.9 L742.3,667.7 L744.3,667.5 L746.2,667.3 L748.2,667.0 L750.2,666.8 L752.2,666.6 L754.2,666.4 L756.2,666.2 L758.2,666.0 L760.2,665.8 L762.2,665.5 L764.2,665.3 L766.2,665.1 L768.1,664.9 L770.1,664.7 L772.1,664.5 L774.1,664.3 L776.1,664.1 L778.1,663.9 L780.1,663.6 L782.1,663.4 L784.1,663.2 L786.1,663.0 L788.1,662.8 L790.1,662.6 L792.0,662.4 L794.0,662.2 L796.0,662.1 L798.0,661.9 L800.0,661.7 L802.0,661.5 L804.0,661.3 L806.0,661.1 L808.0,660.9 L810.0,660.8 L812.0,660.6 L814.0,660.4 L816.0,660.2 L818.0,660.1 L820.0,659.9 L822.0,659.8 L824.0,659.6 L826.0,659.4 L828.0,659.3 L830.0,659.1 L832.0,659.0 L834.0,658.8 L835.9,658.7 L837.9,658.6 L839.9,658.4 L841.9,658.3 L843.9,658.2 L845.9,658.1 L847.9,657.9 L849.9,657.8 L852.0,657.7 L854.0,657.6 L856.0,657.5 L858.0,657.4 L860.0,657.3 L862.0,657.2 L864.0,657.2 L866.0,657.1 L868.0,657.0 L870.0,656.9 L872.0,656.9 L874.0,656.8" stroke="#000" stroke-width="2.1" stroke-dasharray="7.9 10.72" stroke-dashoffset="10.87" stroke-linecap="round"/>
<path d="M215.0,15.5 L214.8,17.5 L214.7,19.5 L214.5,21.5 L214.3,23.5 L214.1,25.5 L213.9,27.5 L213.8,29.5 L213.6,31.5 L213.4,33.4 L213.2,35.4 L213.1,37.4 L212.9,39.4 L212.7,41.4 L212.5,43.4 L212.4,45.4 L212.2,47.4 L212.0,49.4 L211.9,51.4 L211.7,53.4 L211.5,55.4 L211.4,57.4 L211.2,59.4 L211.1,61.4 L210.9,63.4 L210.7,65.4 L210.6,67.4 L210.4,69.4 L210.3,71.4 L210.1,73.4 L209.9,75.3 L209.8,77.3 L209.6,79.3 L209.5,81.3 L209.3,83.3 L209.2,85.3 L209.0,87.3 L208.9,89.3 L208.7,91.3 L208.6,93.3 L208.4,95.3 L208.3,97.3 L208.1,99.3 L208.0,101.3 L207.8,103.3 L207.7,105.3 L207.5,107.3 L207.4,109.3 L207.2,111.3 L207.1,113.3 L206.9,115.3 L206.8,117.3 L206.6,119.3 L206.5,121.3 L206.4,123.3 L206.2,125.3 L206.1,127.3 L205.9,129.2 L205.8,131.2 L205.6,133.2 L205.5,135.2 L205.4,137.2 L205.2,139.2 L205.1,141.2 L204.9,143.2 L204.8,145.2 L204.6,147.2 L204.5,149.2 L204.4,151.2 L204.2,153.2 L204.1,155.2 L203.9,157.2 L203.8,159.2 L203.6,161.2 L203.5,163.2 L203.3,165.2 L203.2,167.2 L203.1,169.2 L202.9,171.2 L202.8,173.2 L202.6,175.2 L202.5,177.2 L202.3,179.2 L202.2,181.2 L202.0,183.2 L201.9,185.2 L201.8,187.2 L201.6,189.1 L201.5,191.1 L201.3,193.1 L201.2,195.1 L201.0,197.1 L200.9,199.1 L200.7,201.1 L200.6,203.1 L200.4,205.1 L200.3,207.1 L200.1,209.1 L200.0,211.1 L199.8,213.1 L199.7,215.1 L199.5,217.1 L199.4,219.1 L199.2,221.1 L199.1,223.1 L198.9,225.1 L198.7,227.1 L198.6,229.1 L198.4,231.1 L198.3,233.1 L198.1,235.1 L198.0,237.1 L197.8,239.0 L197.6,241.0 L197.5,243.0 L197.3,245.0 L197.1,247.0 L197.0,249.0 L196.8,251.0 L196.6,253.0 L196.5,255.0 L196.3,257.0 L196.1,259.0 L196.0,261.0 L195.8,263.0 L195.6,265.0 L195.4,267.0 L195.3,269.0 L195.1,271.0 L194.9,273.0 L194.7,275.0 L194.6,276.9 L194.4,278.9 L194.2,280.9 L194.0,282.9 L193.8,284.9 L193.6,286.9 L193.5,288.9 L193.3,290.9 L193.1,292.9 L192.9,294.9 L192.7,296.9 L192.5,298.9 L192.3,300.9 L192.1,302.9 L191.9,304.9 L191.7,306.8 L191.5,308.8 L191.3,310.8 L191.1,312.8 L190.9,314.8 L190.7,316.8 L190.5,318.8 L190.3,320.8 L190.1,322.8 L189.9,324.8 L189.6,326.8 L189.4,328.8 L189.2,330.7 L189.0,332.7 L188.8,334.7 L188.6,336.7 L188.4,338.7 L188.2,340.7 L188.0,342.7 L187.8,344.7 L187.6,346.7 L187.4,348.7 L187.2,350.7 L187.0,352.7 L186.9,354.7 L186.7,356.6 L186.5,358.6 L186.4,360.6 L186.2,362.6 L186.0,364.6 L185.9,366.6 L185.7,368.6 L185.6,370.6 L185.5,372.6 L185.4,374.6 L185.2,376.6 L185.1,378.6 L185.0,380.6 L184.9,382.6 L184.8,384.6 L184.7,386.6 L184.6,388.6 L184.5,390.6 L184.4,392.6 L184.3,394.6 L184.2,396.6 L184.0,398.6 L183.9,400.6 L183.8,402.6 L183.7,404.6 L183.5,406.6 L183.4,408.6 L183.3,410.5 L183.1,412.5 L183.0,414.5 L182.8,416.5 L182.6,418.5 L182.5,420.5 L182.3,422.5 L182.1,424.5 L182.0,426.5 L181.8,428.5 L181.6,430.5 L181.4,432.5 L181.3,434.5 L181.1,436.5 L180.9,438.5 L180.7,440.5 L180.5,442.5 L180.3,444.5 L180.1,446.5 L179.9,448.5 L179.7,450.5 L179.5,452.5 L179.3,454.5 L179.1,456.5 L178.9,458.4 L178.7,460.4 L178.5,462.4 L178.3,464.4 L178.1,466.4 L177.9,468.4 L177.7,470.4 L177.5,472.4 L177.3,474.4 L177.1,476.4 L176.9,478.4 L176.7,480.4 L176.5,482.4 L176.3,484.4 L176.1,486.4 L175.9,488.4 L175.8,490.3 L175.6,492.3 L175.4,494.3 L175.2,496.3 L175.0,498.3 L174.8,500.3 L174.6,502.3 L174.4,504.3 L174.3,506.3 L174.1,508.3 L173.9,510.3 L173.7,512.3 L173.5,514.2 L173.3,516.2 L173.2,518.2 L173.0,520.2 L172.8,522.2 L172.6,524.2 L172.5,526.2 L172.3,528.2 L172.1,530.2 L171.9,532.2 L171.8,534.2 L171.6,536.2 L171.4,538.2 L171.3,540.1 L171.1,542.1 L170.9,544.1 L170.8,546.1 L170.6,548.1 L170.5,550.1 L170.3,552.1 L170.1,554.1 L170.0,556.1 L169.8,558.1 L169.7,560.1 L169.5,562.1 L169.3,564.1 L169.2,566.0 L169.0,568.0 L168.9,570.0 L168.7,572.0 L168.6,574.0 L168.4,576.0 L168.3,578.0 L168.1,580.0 L168.0,582.0 L167.8,584.0 L167.7,586.0 L167.6,588.0 L167.4,590.0 L167.3,592.0 L167.1,594.0 L167.0,596.0 L166.8,598.0 L166.7,600.0 L166.6,602.0 L166.4,604.0 L166.3,606.0 L166.2,608.0 L166.0,610.0 L165.9,611.9 L165.8,613.9 L165.6,615.9 L165.5,617.9 L165.4,619.9 L165.2,621.9 L165.1,623.9 L165.0,625.9 L164.8,627.9 L164.7,629.9 L164.6,632.0 L164.5,634.0 L164.3,636.0 L164.2,638.0 L164.1,640.0 L164.0,642.0 L163.9,644.0 L163.7,646.0 L163.6,648.0 L163.5,650.0 L163.4,652.0 L163.3,654.0 L163.1,656.0 L163.0,658.0 L162.9,660.0 L162.8,662.0 L162.7,664.0 L162.7,666.0 L162.6,668.0 L162.6,670.0 L162.5,672.0 L162.5,674.0 L162.5,676.0 L162.6,678.0 L162.6,680.0 L162.7,682.0 L162.8,684.0 L163.0,686.0 L163.2,688.0 L163.4,690.0 L163.7,692.0 L164.0,693.9 L164.3,695.9 L164.7,697.9 L165.1,699.8 L165.6,701.8 L166.1,703.8 L166.7,705.7 L167.4,707.6 L168.2,709.4 L169.0,711.2 L170.0,712.9 L171.1,714.5 L172.3,716.0 L173.6,717.4 L175.0,718.7 L176.6,719.9 L178.3,721.0 L180.0,722.0 L181.8,722.8 L183.7,723.6 L185.6,724.3 L187.5,724.8 L189.5,725.3 L191.5,725.6 L193.5,725.9 L195.5,726.1 L197.6,726.3 L199.6,726.4 L201.6,726.5 L203.7,726.6 L205.7,726.6 L207.7,726.7 L209.7,726.7 L211.7,726.8 L213.7,726.8 L215.7,726.8 L217.7,726.9 L219.6,726.9 L221.6,726.9 L223.6,726.9 L225.6,726.8 L227.6,726.8 L229.6,726.7 L231.6,726.7 L233.5,726.6 L235.5,726.5 L237.5,726.4 L239.5,726.3 L241.5,726.1 L243.5,726.0 L245.5,725.9 L247.5,725.8 L249.5,725.6 L251.5,725.5 L253.5,725.3 L255.5,725.2 L257.5,725.1 L259.5,724.9 L261.5,724.8 L263.5,724.6 L265.5,724.5 L267.5,724.4 L269.5,724.2 L271.5,724.1 L273.5,723.9 L275.5,723.8 L277.5,723.6 L279.5,723.5 L281.5,723.3 L283.5,723.2 L285.5,723.0 L287.5,722.9 L289.5,722.7 L291.5,722.6 L293.5,722.4 L295.5,722.3 L297.4,722.1 L299.4,722.0 L301.4,721.8 L303.4,721.7 L305.4,721.5 L307.4,721.4 L309.4,721.2 L311.4,721.1 L313.4,720.9 L315.4,720.7 L317.4,720.6 L319.4,720.4 L321.4,720.3 L323.4,720.1 L325.4,719.9 L327.4,719.8 L329.4,719.6 L331.4,719.5 L333.4,719.3 L335.4,719.1 L337.4,719.0 L339.4,718.8 L341.4,718.6 L343.4,718.5 L345.3,718.3 L347.3,718.1 L349.3,718.0 L351.3,717.8 L353.3,717.6 L355.3,717.5 L357.3,717.3 L359.3,717.1 L361.3,717.0 L363.3,716.8 L365.3,716.6 L367.3,716.5 L369.3,716.3 L371.3,716.1 L373.3,715.9 L375.3,715.8 L377.3,715.6 L379.3,715.4 L381.3,715.3 L383.2,715.1 L385.2,714.9 L387.2,714.7 L389.2,714.6 L391.2,714.4 L393.2,714.2 L395.2,714.0 L397.2,713.9 L399.2,713.7 L401.2,713.5 L403.2,713.3 L405.2,713.2 L407.2,713.0 L409.2,712.8 L411.2,712.6 L413.2,712.5 L415.2,712.3 L417.1,712.1 L419.1,711.9 L421.1,711.7 L423.1,711.6 L425.1,711.4 L427.1,711.2 L429.1,711.0 L431.1,710.8 L433.1,710.7 L435.1,710.5 L437.1,710.3 L439.1,710.1 L441.1,710.0 L443.1,709.8 L445.1,709.6 L447.1,709.4 L449.0,709.2 L451.0,709.1 L453.0,708.9 L455.0,708.7 L457.0,708.5 L459.0,708.3 L461.0,708.2 L463.0,708.0 L465.0,707.8 L467.0,707.6 L469.0,707.4 L471.0,707.2 L473.0,707.1 L475.0,706.9 L477.0,706.7 L479.0,706.5 L480.9,706.3 L482.9,706.2 L484.9,706.0 L486.9,705.8 L488.9,705.6 L490.9,705.4 L492.9,705.3 L494.9,705.1 L496.9,704.9 L498.9,704.7 L500.9,704.5 L502.9,704.4 L504.9,704.2 L506.9,704.0 L508.9,703.8 L510.9,703.6 L512.8,703.5 L514.8,703.3 L516.8,703.1 L518.8,702.9 L520.8,702.7 L522.8,702.6 L524.8,702.4 L526.8,702.2 L528.8,702.0 L530.8,701.9 L532.8,701.7 L534.8,701.5 L536.8,701.3 L538.8,701.1 L540.8,701.0 L542.8,700.8 L544.8,700.6 L546.7,700.4 L548.7,700.3 L550.7,700.1 L552.7,699.9 L554.7,699.7 L556.7,699.5 L558.7,699.4 L560.7,699.2 L562.7,699.0 L564.7,698.8 L566.7,698.7 L568.7,698.5 L570.7,698.3 L572.7,698.1 L574.7,698.0 L576.7,697.8 L578.7,697.6 L580.6,697.4 L582.6,697.3 L584.6,697.1 L586.6,696.9 L588.6,696.8 L590.6,696.6 L592.6,696.4 L594.6,696.2 L596.6,696.1 L598.6,695.9 L600.6,695.7 L602.6,695.5 L604.6,695.4 L606.6,695.2 L608.6,695.0 L610.6,694.9 L612.6,694.7 L614.6,694.5 L616.5,694.3 L618.5,694.2 L620.5,694.0 L622.5,693.8 L624.5,693.7 L626.5,693.5 L628.5,693.3 L630.5,693.2 L632.5,693.0 L634.5,692.8 L636.5,692.6 L638.5,692.5 L640.5,692.3 L642.5,692.1 L644.5,692.0 L646.5,691.8 L648.5,691.6 L650.5,691.5 L652.4,691.3 L654.4,691.1 L656.4,691.0 L658.4,690.8 L660.4,690.6 L662.4,690.5 L664.4,690.3 L666.4,690.1 L668.4,690.0 L670.4,689.8 L672.4,689.6 L674.4,689.5 L676.4,689.3 L678.4,689.2 L680.4,689.0 L682.4,688.8 L684.4,688.7 L686.4,688.5 L688.4,688.3 L690.4,688.2 L692.4,688.0 L694.3,687.8 L696.3,687.7 L698.3,687.5 L700.3,687.4 L702.3,687.2 L704.3,687.0 L706.3,686.9 L708.3,686.7 L710.3,686.6 L712.3,686.4 L714.3,686.2 L716.3,686.1 L718.3,685.9 L720.3,685.8 L722.3,685.6 L724.3,685.4 L726.3,685.3 L728.3,685.1 L730.3,685.0 L732.3,684.8 L734.3,684.6 L736.3,684.5 L738.2,684.3 L740.2,684.2 L742.2,684.0 L744.2,683.9 L746.2,683.7 L748.2,683.5 L750.2,683.4 L752.2,683.2 L754.2,683.1 L756.2,682.9 L758.2,682.8 L760.2,682.6 L762.2,682.5 L764.2,682.3 L766.2,682.1 L768.2,682.0 L770.2,681.8 L772.2,681.7 L774.2,681.5 L776.2,681.4 L778.2,681.2 L780.2,681.1 L782.2,680.9 L784.2,680.8 L786.1,680.6 L788.1,680.5 L790.1,680.3 L792.1,680.2 L794.1,680.0 L796.1,679.9 L798.1,679.7 L800.1,679.6 L802.1,679.4 L804.1,679.3 L806.1,679.1 L808.1,679.0 L810.1,678.8 L812.1,678.7 L814.1,678.5 L816.1,678.4 L818.1,678.2 L820.1,678.1 L822.1,677.9 L824.1,677.8 L826.1,677.6 L828.1,677.5 L830.1,677.4 L832.1,677.2 L834.1,677.1 L836.1,676.9 L838.1,676.8 L840.1,676.6 L842.1,676.5 L844.0,676.3 L846.0,676.2 L848.0,676.1 L850.0,675.9 L852.0,675.8 L854.0,675.6 L856.0,675.5 L858.0,675.4 L860.0,675.2 L862.0,675.1 L864.0,674.9 L866.0,674.8 L868.0,674.7 L870.0,674.5 L872.0,674.4 L874.0,674.2" stroke="#e80000" stroke-width="2.1"/>
<path d="M212.9,15.5 L212.8,17.5 L212.7,19.5 L212.6,21.5 L212.4,23.5 L212.3,25.5 L212.2,27.5 L212.1,29.5 L211.9,31.5 L211.8,33.5 L211.7,35.5 L211.5,37.5 L211.4,39.5 L211.3,41.4 L211.2,43.4 L211.0,45.4 L210.9,47.4 L210.8,49.4 L210.6,51.4 L210.5,53.4 L210.4,55.4 L210.2,57.4 L210.1,59.4 L209.9,61.4 L209.8,63.4 L209.7,65.4 L209.5,67.4 L209.4,69.4 L209.2,71.4 L209.1,73.4 L208.9,75.4 L208.8,77.4 L208.7,79.4 L208.5,81.3 L208.4,83.3 L208.2,85.3 L208.1,87.3 L207.9,89.3 L207.8,91.3 L207.6,93.3 L207.5,95.3 L207.3,97.3 L207.2,99.3 L207.0,101.3 L206.9,103.3 L206.7,105.3 L206.6,107.3 L206.4,109.3 L206.3,111.3 L206.1,113.3 L205.9,115.3 L205.8,117.2 L205.6,119.2 L205.5,121.2 L205.3,123.2 L205.2,125.2 L205.0,127.2 L204.8,129.2 L204.7,131.2 L204.5,133.2 L204.4,135.2 L204.2,137.2 L204.0,139.2 L203.9,141.2 L203.7,143.2 L203.5,145.2 L203.4,147.2 L203.2,149.1 L203.0,151.1 L202.9,153.1 L202.7,155.1 L202.6,157.1 L202.4,159.1 L202.2,161.1 L202.1,163.1 L201.9,165.1 L201.7,167.1 L201.5,169.1 L201.4,171.1 L201.2,173.1 L201.0,175.1 L200.9,177.1 L200.7,179.0 L200.5,181.0 L200.4,183.0 L200.2,185.0 L200.0,187.0 L199.9,189.0 L199.7,191.0 L199.5,193.0 L199.3,195.0 L199.2,197.0 L199.0,199.0 L198.8,201.0 L198.7,203.0 L198.5,205.0 L198.3,206.9 L198.1,208.9 L198.0,210.9 L197.8,212.9 L197.6,214.9 L197.5,216.9 L197.3,218.9 L197.1,220.9 L196.9,222.9 L196.8,224.9 L196.6,226.9 L196.4,228.9 L196.2,230.9 L196.1,232.8 L195.9,234.8 L195.7,236.8 L195.5,238.8 L195.4,240.8 L195.2,242.8 L195.0,244.8 L194.8,246.8 L194.7,248.8 L194.5,250.8 L194.3,252.8 L194.2,254.8 L194.0,256.8 L193.8,258.8 L193.6,260.7 L193.5,262.7 L193.3,264.7 L193.1,266.7 L192.9,268.7 L192.8,270.7 L192.6,272.7 L192.4,274.7 L192.3,276.7 L192.1,278.7 L191.9,280.7 L191.7,282.7 L191.6,284.7 L191.4,286.6 L191.2,288.6 L191.0,290.6 L190.9,292.6 L190.7,294.6 L190.5,296.6 L190.4,298.6 L190.2,300.6 L190.0,302.6 L189.9,304.6 L189.7,306.6 L189.5,308.6 L189.3,310.5 L189.2,312.5 L189.0,314.5 L188.8,316.5 L188.7,318.5 L188.5,320.5 L188.3,322.5 L188.2,324.5 L188.0,326.5 L187.8,328.5 L187.7,330.5 L187.5,332.5 L187.3,334.5 L187.2,336.4 L187.0,338.4 L186.8,340.4 L186.7,342.4 L186.5,344.4 L186.3,346.4 L186.2,348.4 L186.0,350.4 L185.8,352.4 L185.7,354.4 L185.5,356.4 L185.3,358.4 L185.2,360.4 L185.0,362.3 L184.8,364.3 L184.7,366.3 L184.5,368.3 L184.3,370.3 L184.2,372.3 L184.0,374.3 L183.8,376.3 L183.7,378.3 L183.5,380.3 L183.3,382.3 L183.2,384.3 L183.0,386.3 L182.8,388.2 L182.6,390.2 L182.5,392.2 L182.3,394.2 L182.1,396.2 L181.9,398.2 L181.8,400.2 L181.6,402.2 L181.4,404.2 L181.2,406.2 L181.1,408.2 L180.9,410.2 L180.7,412.2 L180.5,414.2 L180.3,416.1 L180.2,418.1 L180.0,420.1 L179.8,422.1 L179.6,424.1 L179.4,426.1 L179.2,428.1 L179.1,430.1 L178.9,432.1 L178.7,434.1 L178.5,436.1 L178.3,438.1 L178.1,440.1 L177.9,442.1 L177.8,444.1 L177.6,446.0 L177.4,448.0 L177.2,450.0 L177.0,452.0 L176.8,454.0 L176.6,456.0 L176.4,458.0 L176.3,460.0 L176.1,462.0 L175.9,464.0 L175.7,466.0 L175.5,468.0 L175.3,469.9 L175.1,471.9 L174.9,473.9 L174.7,475.9 L174.5,477.9 L174.4,479.9 L174.2,481.9 L174.0,483.9 L173.8,485.9 L173.6,487.9 L173.4,489.9 L173.2,491.8 L173.0,493.8 L172.9,495.8 L172.7,497.8 L172.5,499.8 L172.3,501.8 L172.1,503.8 L171.9,505.8 L171.7,507.8 L171.6,509.8 L171.4,511.7 L171.2,513.7 L171.0,515.7 L170.8,517.7 L170.6,519.7 L170.4,521.7 L170.3,523.7 L170.1,525.7 L169.9,527.7 L169.7,529.6 L169.5,531.6 L169.3,533.6 L169.2,535.6 L169.0,537.6 L168.8,539.6 L168.6,541.6 L168.4,543.6 L168.2,545.6 L168.1,547.5 L167.9,549.5 L167.7,551.5 L167.5,553.5 L167.3,555.5 L167.1,557.5 L167.0,559.5 L166.8,561.5 L166.6,563.5 L166.4,565.4 L166.2,567.4 L166.1,569.4 L165.9,571.4 L165.7,573.4 L165.5,575.4 L165.3,577.4 L165.2,579.4 L165.0,581.4 L164.8,583.4 L164.6,585.3 L164.4,587.3 L164.3,589.3 L164.1,591.3 L163.9,593.3 L163.7,595.3 L163.5,597.3 L163.4,599.3 L163.2,601.3 L163.0,603.3 L162.8,605.3 L162.6,607.3 L162.5,609.2 L162.3,611.2 L162.1,613.2 L161.9,615.2 L161.8,617.2 L161.6,619.2 L161.4,621.2 L161.2,623.2 L161.0,625.2 L160.9,627.2 L160.7,629.2 L160.5,631.2 L160.3,633.2 L160.2,635.2 L160.0,637.2 L159.8,639.2 L159.6,641.2 L159.4,643.2 L159.3,645.2 L159.1,647.2 L158.9,649.2 L158.7,651.2 L158.6,653.2 L158.4,655.2 L158.2,657.2 L158.0,659.2 L157.9,661.2 L157.7,663.2 L157.5,665.2 L157.3,667.2 L157.2,669.2 L157.0,671.2 L156.9,673.2 L156.8,675.2 L156.7,677.2 L156.6,679.2 L156.5,681.2 L156.5,683.1 L156.5,685.1 L156.5,687.1 L156.5,689.1 L156.5,691.1 L156.6,693.1 L156.7,695.1 L156.9,697.0 L157.1,699.0 L157.3,701.0 L157.6,703.0 L157.9,704.9 L158.2,706.9 L158.6,708.8 L159.1,710.8 L159.6,712.8 L160.1,714.7 L160.7,716.6 L161.4,718.5 L162.2,720.4 L163.2,722.1 L164.4,723.6 L165.8,725.0 L167.4,726.3 L169.1,727.3 L171.0,728.3 L172.8,729.1 L174.7,729.8 L176.6,730.4 L178.5,730.9 L180.5,731.3 L182.5,731.6 L184.5,731.9 L186.4,732.1 L188.4,732.3 L190.4,732.4 L192.4,732.5 L194.4,732.5 L196.4,732.5 L198.4,732.5 L200.4,732.4 L202.4,732.3 L204.4,732.2 L206.4,732.1 L208.4,732.0 L210.4,731.9 L212.4,731.7 L214.4,731.6 L216.4,731.5 L218.4,731.3 L220.4,731.2 L222.4,731.1 L224.4,731.0 L226.4,730.9 L228.4,730.8 L230.4,730.7 L232.4,730.7 L234.4,730.6 L236.4,730.6 L238.4,730.5 L240.4,730.4 L242.4,730.4 L244.4,730.3 L246.4,730.3 L248.4,730.2 L250.4,730.2 L252.4,730.1 L254.4,730.0 L256.4,729.9 L258.4,729.8 L260.4,729.7 L262.4,729.6 L264.4,729.5 L266.4,729.3 L268.4,729.2 L270.4,729.1 L272.4,728.9 L274.4,728.7 L276.3,728.6 L278.3,728.4 L280.3,728.3 L282.3,728.1 L284.3,727.9 L286.3,727.7 L288.3,727.5 L290.3,727.3 L292.3,727.2 L294.3,727.0 L296.3,726.8 L298.3,726.6 L300.2,726.4 L302.2,726.2 L304.2,726.0 L306.2,725.8 L308.2,725.6 L310.2,725.4 L312.2,725.2 L314.2,725.0 L316.2,724.8 L318.2,724.6 L320.1,724.5 L322.1,724.3 L324.1,724.1 L326.1,723.9 L328.1,723.7 L330.1,723.5 L332.1,723.3 L334.1,723.1 L336.1,722.9 L338.1,722.7 L340.1,722.5 L342.0,722.3 L344.0,722.2 L346.0,722.0 L348.0,721.8 L350.0,721.6 L352.0,721.4 L354.0,721.2 L356.0,721.0 L358.0,720.8 L360.0,720.6 L362.0,720.4 L363.9,720.2 L365.9,720.0 L367.9,719.9 L369.9,719.7 L371.9,719.5 L373.9,719.3 L375.9,719.1 L377.9,718.9 L379.9,718.7 L381.9,718.5 L383.9,718.3 L385.8,718.1 L387.8,718.0 L389.8,717.8 L391.8,717.6 L393.8,717.4 L395.8,717.2 L397.8,717.0 L399.8,716.8 L401.8,716.6 L403.8,716.4 L405.8,716.3 L407.7,716.1 L409.7,715.9 L411.7,715.7 L413.7,715.5 L415.7,715.3 L417.7,715.1 L419.7,714.9 L421.7,714.7 L423.7,714.6 L425.7,714.4 L427.7,714.2 L429.6,714.0 L431.6,713.8 L433.6,713.6 L435.6,713.4 L437.6,713.2 L439.6,713.1 L441.6,712.9 L443.6,712.7 L445.6,712.5 L447.6,712.3 L449.6,712.1 L451.5,711.9 L453.5,711.8 L455.5,711.6 L457.5,711.4 L459.5,711.2 L461.5,711.0 L463.5,710.8 L465.5,710.6 L467.5,710.5 L469.5,710.3 L471.5,710.1 L473.5,709.9 L475.4,709.7 L477.4,709.5 L479.4,709.3 L481.4,709.2 L483.4,709.0 L485.4,708.8 L487.4,708.6 L489.4,708.4 L491.4,708.2 L493.4,708.1 L495.4,707.9 L497.4,707.7 L499.3,707.5 L501.3,707.3 L503.3,707.1 L505.3,707.0 L507.3,706.8 L509.3,706.6 L511.3,706.4 L513.3,706.2 L515.3,706.0 L517.3,705.9 L519.3,705.7 L521.3,705.5 L523.2,705.3 L525.2,705.1 L527.2,705.0 L529.2,704.8 L531.2,704.6 L533.2,704.4 L535.2,704.2 L537.2,704.1 L539.2,703.9 L541.2,703.7 L543.2,703.5 L545.2,703.3 L547.1,703.1 L549.1,703.0 L551.1,702.8 L553.1,702.6 L555.1,702.4 L557.1,702.2 L559.1,702.1 L561.1,701.9 L563.1,701.7 L565.1,701.5 L567.1,701.4 L569.1,701.2 L571.0,701.0 L573.0,700.8 L575.0,700.6 L577.0,700.5 L579.0,700.3 L581.0,700.1 L583.0,699.9 L585.0,699.7 L587.0,699.6 L589.0,699.4 L591.0,699.2 L593.0,699.0 L595.0,698.9 L596.9,698.7 L598.9,698.5 L600.9,698.3 L602.9,698.2 L604.9,698.0 L606.9,697.8 L608.9,697.6 L610.9,697.5 L612.9,697.3 L614.9,697.1 L616.9,696.9 L618.9,696.8 L620.9,696.6 L622.8,696.4 L624.8,696.2 L626.8,696.1 L628.8,695.9 L630.8,695.7 L632.8,695.5 L634.8,695.4 L636.8,695.2 L638.8,695.0 L640.8,694.8 L642.8,694.7 L644.8,694.5 L646.8,694.3 L648.7,694.1 L650.7,694.0 L652.7,693.8 L654.7,693.6 L656.7,693.5 L658.7,693.3 L660.7,693.1 L662.7,692.9 L664.7,692.8 L666.7,692.6 L668.7,692.4 L670.7,692.3 L672.7,692.1 L674.6,691.9 L676.6,691.7 L678.6,691.6 L680.6,691.4 L682.6,691.2 L684.6,691.1 L686.6,690.9 L688.6,690.7 L690.6,690.6 L692.6,690.4 L694.6,690.2 L696.6,690.1 L698.6,689.9 L700.6,689.7 L702.5,689.5 L704.5,689.4 L706.5,689.2 L708.5,689.0 L710.5,688.9 L712.5,688.7 L714.5,688.5 L716.5,688.4 L718.5,688.2 L720.5,688.0 L722.5,687.9 L724.5,687.7 L726.5,687.5 L728.5,687.4 L730.5,687.2 L732.4,687.0 L734.4,686.9 L736.4,686.7 L738.4,686.6 L740.4,686.4 L742.4,686.2 L744.4,686.1 L746.4,685.9 L748.4,685.7 L750.4,685.6 L752.4,685.4 L754.4,685.2 L756.4,685.1 L758.4,684.9 L760.4,684.8 L762.3,684.6 L764.3,684.4 L766.3,684.3 L768.3,684.1 L770.3,683.9 L772.3,683.8 L774.3,683.6 L776.3,683.5 L778.3,683.3 L780.3,683.1 L782.3,683.0 L784.3,682.8 L786.3,682.7 L788.3,682.5 L790.3,682.3 L792.2,682.2 L794.2,682.0 L796.2,681.9 L798.2,681.7 L800.2,681.5 L802.2,681.4 L804.2,681.2 L806.2,681.1 L808.2,680.9 L810.2,680.7 L812.2,680.6 L814.2,680.4 L816.2,680.3 L818.2,680.1 L820.2,680.0 L822.2,679.8 L824.1,679.6 L826.1,679.5 L828.1,679.3 L830.1,679.2 L832.1,679.0 L834.1,678.9 L836.1,678.7 L838.1,678.6 L840.1,678.4 L842.1,678.2 L844.1,678.1 L846.1,677.9 L848.1,677.8 L850.1,677.6 L852.1,677.5 L854.1,677.3 L856.1,677.2 L858.0,677.0 L860.0,676.9 L862.0,676.7 L864.0,676.6 L866.0,676.4 L868.0,676.2 L870.0,676.1 L872.0,675.9 L874.0,675.8" stroke="#e80000" stroke-width="2.1" stroke-dasharray="7.9 10.72" stroke-dashoffset="11.22" stroke-linecap="round"/>
<path d="M110.8,778.5 L216.4,15.5" stroke="#0000ee" stroke-width="2.0"/>
</g>
<rect x="110.8" y="15.5" width="763.3" height="763.0" fill="none" stroke="#000" stroke-width="3"/>
<text x="104" y="788.7" font-family='"Liberation Serif", serif' font-size="33" text-anchor="end">0</text>
<text x="110.8" y="810.5" font-family='"Liberation Serif", serif' font-size="33" text-anchor="middle">0</text>
<text x="104" y="636.1" font-family='"Liberation Serif", serif' font-size="33" text-anchor="end">20</text>
<text x="263.5" y="810.5" font-family='"Liberation Serif", serif' font-size="33" text-anchor="middle">20</text>
<text x="104" y="483.5" font-family='"Liberation Serif", serif' font-size="33" text-anchor="end">40</text>
<text x="416.1" y="810.5" font-family='"Liberation Serif", serif' font-size="33" text-anchor="middle">40</text>
<text x="104" y="330.9" font-family='"Liberation Serif", serif' font-size="33" text-anchor="end">60</text>
<text x="568.8" y="810.5" font-family='"Liberation Serif", serif' font-size="33" text-anchor="middle">60</text>
<text x="104" y="178.3" font-family='"Liberation Serif", serif' font-size="33" text-anchor="end">80</text>
<text x="721.4" y="810.5" font-family='"Liberation Serif", serif' font-size="33" text-anchor="middle">80</text>
<text x="104" y="25.7" font-family='"Liberation Serif", serif' font-size="33" text-anchor="end">100</text>
<text x="874.1" y="810.5" font-family='"Liberation Serif", serif' font-size="33" text-anchor="middle">100</text>
<text x="492.2" y="865.5" font-family='"Liberation Serif", serif' font-size="40" text-anchor="middle">P</text>
<text transform="translate(30.9,424.9) rotate(-90) scale(1.05,1)" font-family='"Liberation Serif", serif' font-size="40" text-anchor="middle">N</text>
<text x="905" y="507.6" font-family='"Liberation Serif", serif' font-size="29">1.6</text>
<text x="905" y="588.8" font-family='"Liberation Serif", serif' font-size="29">1.2</text>
<text x="905" y="635.5" font-family='"Liberation Serif", serif' font-size="29">0.8</text>
<text x="905" y="662.4" font-family='"Liberation Serif", serif' font-size="29">0.4</text>
<text x="905" y="688.6" font-family='"Liberation Serif", serif' font-size="29">0.0</text>
<path d="M881.8,475.3 C888.8,474.0 887.8,480.5 887.8,486.5 L887.8,488.75 C887.8,493.75 890.8,496.75 895.0999999999999,496.75 C890.8,496.75 887.8,499.75 887.8,504.75 L887.8,507 C887.8,513 888.8,519.5 881.8,518.2" fill="none" stroke="#000" stroke-width="3.6" stroke-linejoin="round"/>
<path d="M881.8,559.3 C888.8,558.0 887.8,564.5 887.8,570.5 L887.8,572.5 C887.8,577.5 890.8,580.5 895.0999999999999,580.5 C890.8,580.5 887.8,583.5 887.8,588.5 L887.8,590.5 C887.8,596.5 888.8,603.0 881.8,601.7" fill="none" stroke="#000" stroke-width="3.6" stroke-linejoin="round"/>
<path d="M586.2,99.2 L588.2,100.5 L590.2,101.9 L592.3,103.2 L594.3,104.6 L596.3,106.0 L598.3,107.3 L600.3,108.7 L602.3,110.1 L604.2,111.5 L606.2,112.9 L608.2,114.3 L610.2,115.7 L612.1,117.1 L614.1,118.5 L616.0,120.0 L618.0,121.4 L619.9,122.8 L621.9,124.3 L623.8,125.7 L625.8,127.2 L627.7,128.7 L629.6,130.1 L631.5,131.6 L633.4,133.1 L635.3,134.6 L637.2,136.1 L639.1,137.6 L641.0,139.1 L642.9,140.6 L644.8,142.2 L646.7,143.7 L648.6,145.2 L650.4,146.8 L652.3,148.3 L654.1,149.9 L656.0,151.4 L657.8,153.0 L659.7,154.6 L661.5,156.1 L663.3,157.7 L665.2,159.3 L667.0,160.9 L668.8,162.5 L670.6,164.1 L672.4,165.7 L674.2,167.4 L676.0,169.0 L677.8,170.6 L679.6,172.3 L681.4,173.9 L683.1,175.5 L684.9,177.2 L686.7,178.9 L688.4,180.5 L690.2,182.2 L691.9,183.9 L693.7,185.6 L695.4,187.3 L697.1,189.0 L698.8,190.7 L700.6,192.4 L702.3,194.1 L704.0,195.8 L705.7,197.5 L707.4,199.2 L709.1,201.0 L710.7,202.7 L712.4,204.5 L714.1,206.2 L715.8,208.0 L717.4,209.7 L719.1,211.5 L720.7,213.3 L722.4,215.1 L724.0,216.8 L725.6,218.6 L727.3,220.4 L728.9,222.2 L730.5,224.0 L732.1,225.8 L733.7,227.7 L735.3,229.5 L736.9,231.3 L738.5,233.1 L740.1,235.0 L741.6,236.8 L743.2,238.7 L744.8,240.5 L746.3,242.4 L747.9,244.3 L749.4,246.1 L751.0,248.0 L752.5,249.9 L754.0,251.8 L755.5,253.6 L757.0,255.5 L758.5,257.4 L760.0,259.3 L761.5,261.3 L763.0,263.2 L764.5,265.1 L766.0,267.0 L767.5,268.9 L768.9,270.9 L770.4,272.8 L771.8,274.8 L773.3,276.7 L774.7,278.7 L776.1,280.6 L777.6,282.6 L779.0,284.6 L780.4,286.5 L781.8,288.5 L783.2,290.5 L784.6,292.5 L786.0,294.5 L787.4,296.5 L788.7,298.5 L790.1,300.5 L795.4,296.9 L794.1,294.9 L792.7,292.8 L791.3,290.8 L789.9,288.8 L788.5,286.8 L787.1,284.8 L785.7,282.8 L784.3,280.8 L782.9,278.8 L781.5,276.8 L780.0,274.8 L778.6,272.8 L777.2,270.8 L775.7,268.9 L774.2,266.9 L772.8,264.9 L771.3,263.0 L769.8,261.0 L768.4,259.1 L766.9,257.1 L765.4,255.2 L763.9,253.3 L762.4,251.3 L760.9,249.4 L759.3,247.5 L757.8,245.6 L756.3,243.7 L754.7,241.8 L753.2,239.9 L751.6,238.0 L750.1,236.1 L748.5,234.2 L747.0,232.3 L745.4,230.5 L743.8,228.6 L742.2,226.7 L740.6,224.9 L739.0,223.0 L737.4,221.2 L735.8,219.4 L734.2,217.5 L732.6,215.7 L730.9,213.9 L729.3,212.0 L727.7,210.2 L726.0,208.4 L724.4,206.6 L722.7,204.8 L721.0,203.0 L719.4,201.2 L717.7,199.5 L716.0,197.7 L714.3,195.9 L712.6,194.2 L710.9,192.4 L709.2,190.6 L707.5,188.9 L705.8,187.2 L704.1,185.4 L702.3,183.7 L700.6,182.0 L698.9,180.2 L697.1,178.5 L695.4,176.8 L693.6,175.1 L691.8,173.4 L690.1,171.7 L688.3,170.1 L686.5,168.4 L684.7,166.7 L682.9,165.0 L681.2,163.4 L679.3,161.7 L677.5,160.1 L675.7,158.4 L673.9,156.8 L672.1,155.2 L670.3,153.5 L668.4,151.9 L666.6,150.3 L664.7,148.7 L662.9,147.1 L661.0,145.5 L659.2,143.9 L657.3,142.3 L655.4,140.7 L653.6,139.2 L651.7,137.6 L649.8,136.0 L647.9,134.5 L646.0,132.9 L644.1,131.4 L642.2,129.9 L640.3,128.3 L638.4,126.8 L636.4,125.3 L634.5,123.8 L632.6,122.3 L630.7,120.8 L628.7,119.3 L626.8,117.8 L624.8,116.3 L622.8,114.9 L620.9,113.4 L618.9,111.9 L616.9,110.5 L615.0,109.0 L613.0,107.6 L611.0,106.2 L609.0,104.7 L607.0,103.3 L605.0,101.9 L603.0,100.5 L601.0,99.1 L599.0,97.7 L596.9,96.3 L594.9,94.9 L592.9,93.6 L590.9,92.2Z" fill="#000"/>
<path d="M553.3,67.2 C556,68.5 560,71.5 565,73.3 L595.5,84.6 Q598,85.6 596.8,88 L590.8,99 L584.6,103.6 Q582.8,104.9 581.4,103.3 L552.2,73.6 Q549.8,70.2 553.3,67.2 Z" fill="#000"/>
<path d="M823.4,335.2 Q824,338.5 820.6,337.4 L816,333.6 L786.4,304.4 Q784.6,302.2 787,300.8 L805,290.2 Q807.3,289.2 808,291.6 L817.2,326 Q819.5,331.5 823.4,335.2 Z" fill="#000"/>
<g transform="translate(645.5,99) rotate(35)"><ellipse cx="-21.4" cy="5.6" rx="8.9" ry="6.2" transform="rotate(-97 -21.4 5.6)" fill="none" stroke="#000" stroke-width="2.3"/><path d="M-9.4,-4.0 C-11,-1.5 -12.6,0.5 -12.9,3.5 C-13.2,6.5 -13.2,9.5 -12.2,12.2 C-11.2,14.8 -8.5,15.6 -6.0,11.4" fill="none" stroke="#000" stroke-width="2.3" stroke-linecap="round"/><path d="M-9.4,-4.0 L-12.4,0.6" stroke="#000" stroke-width="3.4" stroke-linecap="butt"/><path d="M20.6,-9.1 L0.9,0 L20.4,8.8" fill="none" stroke="#000" stroke-width="2.8" stroke-linejoin="bevel"/><path d="M28.4,-5.9 L37.0,-15.1 L36.9,14.6" fill="none" stroke="#000" stroke-width="3.0" stroke-linejoin="bevel"/></g>
<g transform="translate(786,233.1) rotate(62)"><g transform="rotate(3 -21.4 5.6)"><ellipse cx="-21.4" cy="5.6" rx="8.9" ry="6.2" transform="rotate(-97 -21.4 5.6)" fill="none" stroke="#000" stroke-width="2.3"/><path d="M-9.4,-4.0 C-11,-1.5 -12.6,0.5 -12.9,3.5 C-13.2,6.5 -13.2,9.5 -12.2,12.2 C-11.2,14.8 -8.5,15.6 -6.0,11.4" fill="none" stroke="#000" stroke-width="2.3" stroke-linecap="round"/><path d="M-9.4,-4.0 L-12.4,0.6" stroke="#000" stroke-width="3.4" stroke-linecap="butt"/></g><path d="M0.2,-8.9 L19.5,0 L0.2,8.8" fill="none" stroke="#000" stroke-width="2.8" stroke-linejoin="bevel"/><path d="M28.4,-5.9 L37.0,-15.1 L36.9,14.6" fill="none" stroke="#000" stroke-width="3.0" stroke-linejoin="bevel"/></g>
</svg>
</body></html>
